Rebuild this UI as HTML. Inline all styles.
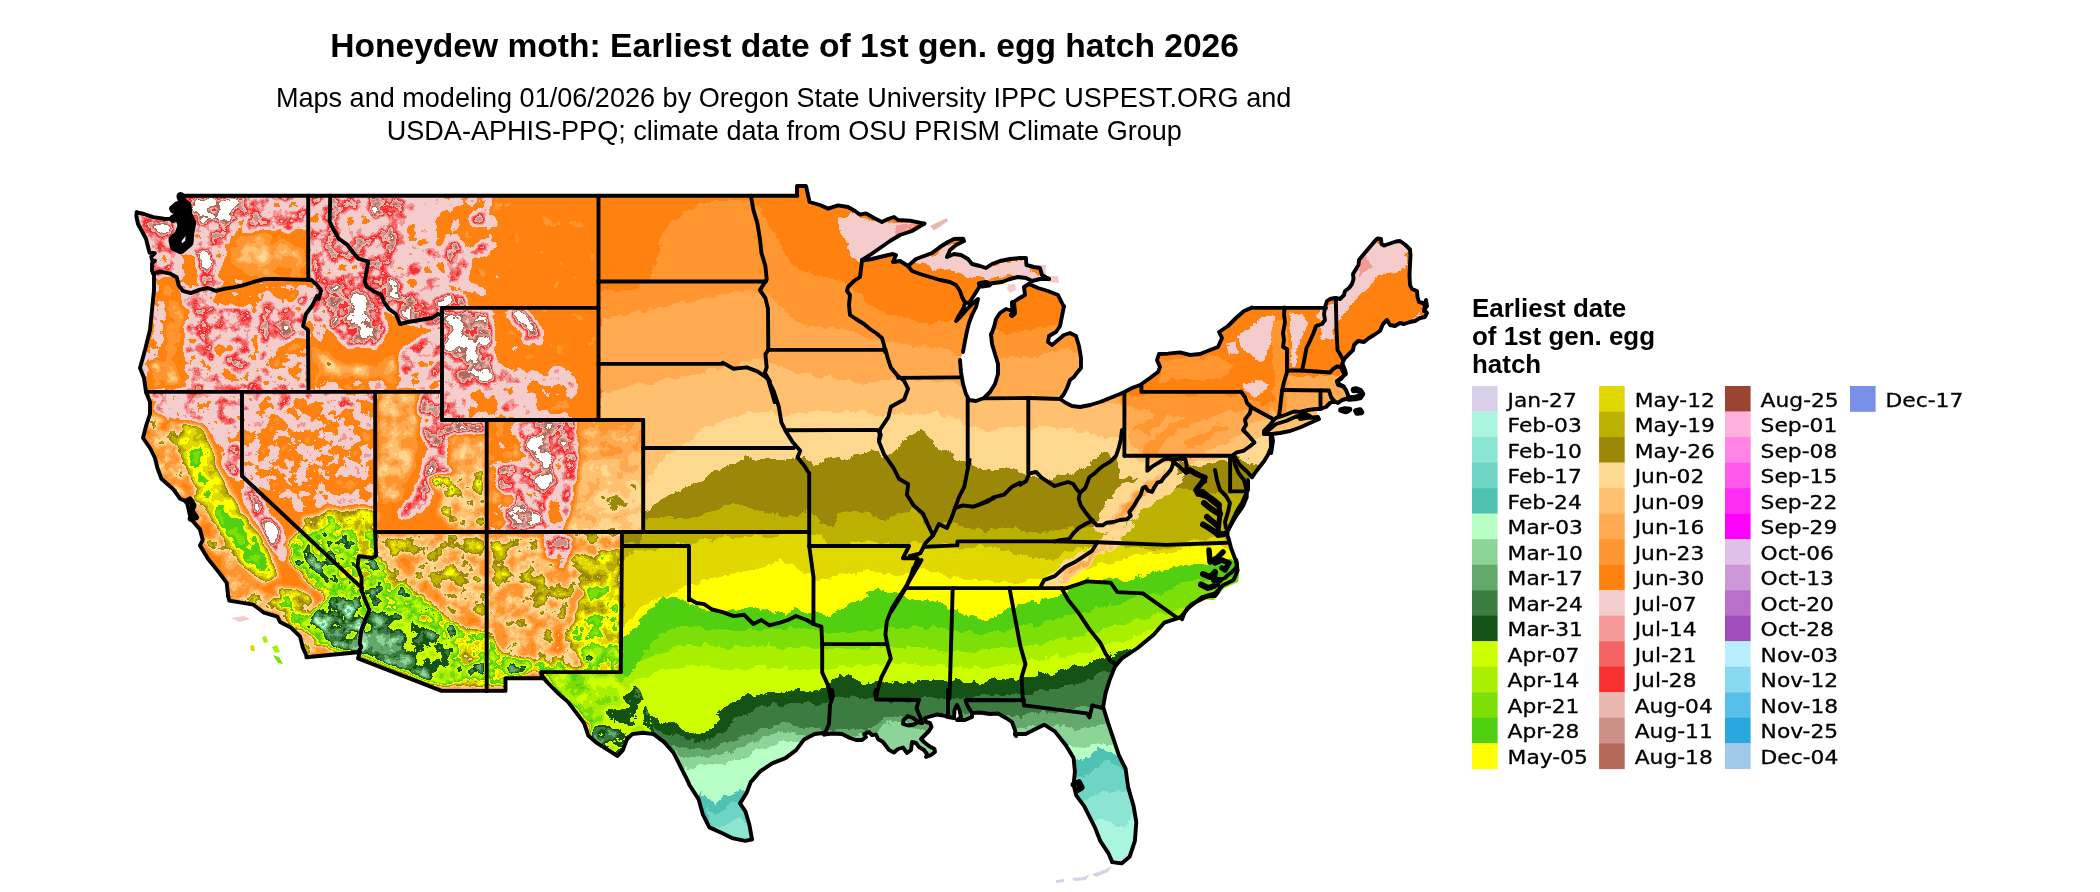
<!DOCTYPE html>
<html lang="en"><head><meta charset="utf-8"><title>Honeydew moth: Earliest date of 1st gen. egg hatch 2026</title>
<style>html,body{margin:0;padding:0;background:#fff}svg{display:block;will-change:transform}</style></head>
<body><svg width="2100" height="892" viewBox="0 0 2100 892">
<rect width="2100" height="892" fill="#fff"/>
<defs><clipPath id="us"><path d="M180.3 195.8L308.2 195.8L330.3 195.8L598.5 195.8L750.9 195.8L797.4 195.8L797.0 195.6L797.0 186.0L806.0 186.0L809.6 202.0L820.0 205.0L828.0 208.6L838.0 205.4L848.0 207.0L855.0 211.0L860.0 214.6L866.0 213.4L874.0 218.0L882.0 222.0L888.0 219.0L894.0 217.0L898.0 220.0L910.0 220.6L924.4 223.6L912.0 231.0L900.0 235.0L890.0 241.0L880.0 248.0L870.0 255.0L862.0 260.0L862.0 260.6L872.0 259.0L884.0 256.0L893.0 254.0L896.0 255.0L893.0 262.0L900.0 261.0L908.0 266.0L916.0 259.0L924.0 256.0L932.0 253.0L940.0 247.0L948.0 242.0L954.0 239.0L963.0 238.6L964.0 241.0L956.0 245.0L950.0 250.0L947.0 257.0L954.0 254.0L961.0 255.0L968.0 259.0L972.0 264.0L980.0 266.0L986.0 268.0L992.0 264.0L1000.0 261.0L1010.0 259.0L1020.0 258.0L1026.0 258.0L1026.4 265.0L1034.0 267.0L1040.0 268.0L1042.0 275.0L1049.0 279.0L1040.0 279.0L1032.0 281.0L1026.0 278.0L1018.0 277.0L1010.0 279.0L1002.0 282.0L994.0 283.0L988.0 284.0L982.0 283.0L978.0 289.0L973.0 297.0L969.0 303.0L965.0 302.6L965.0 303.0L963.0 309.0L958.0 317.0L956.0 321.0L961.0 316.0L967.0 309.0L973.0 303.0L978.0 299.0L976.0 307.0L972.0 315.0L969.0 323.0L967.0 331.0L965.0 341.0L963.0 352.0L960.0 360.0L961.0 372.0L963.0 384.0L966.0 394.0L969.0 400.0L976.0 401.0L984.0 398.0L990.0 392.0L995.0 384.0L998.0 374.0L998.0 364.0L995.0 354.0L992.0 344.0L991.0 334.0L991.0 335.0L994.0 327.0L996.0 319.0L1000.0 313.0L1006.0 309.0L1013.0 311.0L1012.0 303.0L1018.0 299.0L1025.0 295.0L1024.0 287.0L1029.0 284.0L1038.0 288.0L1048.0 291.0L1058.0 295.0L1062.0 303.0L1064.0 307.0L1064.0 306.0L1062.0 316.0L1060.0 326.0L1056.0 332.0L1049.0 336.0L1048.0 342.0L1052.0 345.0L1058.0 340.0L1064.0 335.0L1070.0 333.0L1076.0 336.0L1079.0 346.0L1081.0 358.0L1081.0 368.0L1076.0 374.0L1074.0 377.0L1070.0 380.0L1067.0 388.0L1064.0 394.0L1060.0 399.0L1066.0 403.0L1072.0 406.0L1080.0 407.0L1090.0 405.0L1100.0 402.0L1110.0 398.0L1120.0 394.0L1124.4 392.0L1132.0 388.0L1140.0 385.0L1143.0 383.0L1150.0 378.0L1158.0 372.0L1160.0 367.0L1157.0 360.0L1159.0 354.0L1168.0 353.6L1180.0 352.4L1190.0 355.0L1200.0 354.0L1210.0 350.0L1218.0 347.0L1222.0 338.0L1219.0 332.0L1228.0 326.0L1236.0 318.0L1244.0 311.0L1252.0 307.6L1254.5 307.9L1284.6 307.9L1326.0 307.9L1325.0 307.0L1327.0 301.0L1330.0 299.0L1335.0 298.0L1335.5 298.0L1340.0 299.0L1344.0 295.0L1345.0 291.0L1349.0 288.0L1352.0 284.0L1353.5 279.0L1353.0 274.0L1356.0 269.0L1358.5 265.0L1359.0 260.0L1363.0 255.0L1369.0 248.0L1374.0 242.0L1377.5 238.5L1381.0 239.0L1381.5 244.0L1384.0 245.5L1390.0 243.5L1396.0 241.5L1400.0 241.0L1405.0 244.5L1410.0 249.5L1410.5 255.0L1410.0 265.0L1409.5 275.0L1410.0 285.0L1412.0 289.0L1417.0 291.0L1417.5 297.0L1419.0 302.0L1423.0 303.0L1425.0 306.0L1424.0 311.0L1426.0 300.0L1427.0 306.0L1424.0 310.0L1427.0 313.0L1425.0 317.0L1420.0 318.0L1415.0 321.0L1410.0 322.0L1404.0 324.0L1400.0 323.0L1395.0 326.0L1390.0 325.0L1387.0 320.0L1383.0 324.0L1380.0 331.0L1374.0 335.0L1369.0 338.0L1364.0 342.0L1358.0 341.0L1354.0 345.0L1353.0 350.0L1349.0 354.0L1345.0 358.0L1343.0 362.0L1341.0 367.0L1343.0 365.0L1345.0 370.0L1346.0 374.0L1341.0 378.0L1337.0 382.0L1338.0 385.0L1343.0 386.0L1346.0 390.0L1348.0 395.0L1349.0 398.5L1355.0 398.0L1360.0 397.0L1362.0 394.0L1360.0 391.0L1356.0 389.5L1354.0 390.0L1357.0 392.0L1359.0 394.0L1358.0 395.5L1355.0 396.8L1350.0 400.0L1346.0 399.0L1342.0 400.0L1338.0 403.0L1334.0 401.0L1330.0 403.0L1326.0 407.0L1320.5 409.0L1316.0 409.0L1308.0 410.0L1300.0 412.0L1294.0 411.5L1285.0 415.0L1276.0 418.0L1274.0 419.5L1270.0 425.0L1266.0 430.0L1272.0 435.0L1272.0 435.0L1273.0 441.0L1271.2 453.0L1270.7 436.0L1271.3 446.7L1268.0 454.7L1264.0 461.3L1258.7 468.0L1254.7 473.3L1252.0 477.3L1244.0 480.0L1246.7 490.7L1248.0 480.0L1248.0 490.0L1245.0 496.0L1242.0 503.0L1238.0 509.0L1234.0 517.0L1230.0 526.0L1228.5 529.0L1226.5 533.0L1229.0 540.0L1231.0 548.0L1229.0 540.0L1231.0 548.0L1234.0 556.0L1239.2 570.0L1238.2 582.0L1224.0 588.2L1214.0 600.2L1204.0 599.0L1198.0 601.0L1192.0 604.0L1187.0 609.0L1184.0 614.0L1182.0 619.2L1164.2 622.7L1153.6 634.7L1137.6 648.0L1121.6 658.7L1114.9 666.7L1109.6 680.1L1105.5 693.4L1102.9 708.1L1102.9 706.0L1108.2 723.4L1113.6 739.4L1118.9 755.4L1125.6 768.7L1128.2 787.4L1133.6 806.1L1136.3 822.1L1134.9 840.8L1129.6 856.8L1121.6 863.4L1112.2 862.1L1112.2 862.1L1108.2 852.8L1100.2 840.8L1094.9 827.4L1089.6 816.8L1084.2 806.1L1076.2 795.4L1073.6 784.7L1074.9 771.4L1073.6 758.1L1065.5 744.7L1054.9 731.4L1044.2 724.7L1033.5 730.0L1025.5 734.0L1014.9 734.0L1016.0 736.0L1015.0 730.0L1012.0 722.0L1006.0 718.0L998.0 713.5L990.0 714.0L980.0 712.5L972.0 713.0L972.0 713.0L972.0 717.0L965.0 720.0L957.0 720.0L961.0 717.0L959.5 710.0L957.0 705.0L954.5 710.0L954.0 718.0L948.0 717.0L943.0 715.5L937.0 714.5L930.0 716.5L925.0 718.0L926.0 722.0L930.0 723.0L931.5 727.0L929.0 731.0L925.0 735.0L921.0 739.0L924.0 742.0L929.0 746.0L934.5 749.0L935.0 752.0L931.0 755.0L926.0 757.0L927.0 754.0L924.0 750.0L919.0 747.0L916.0 743.0L912.0 742.0L911.0 750.0L907.0 753.0L903.0 747.5L898.0 749.0L894.0 752.5L889.0 750.0L886.0 746.0L883.0 742.0L878.0 739.0L876.0 734.5L872.0 735.0L869.0 732.0L864.0 734.0L866.0 737.0L862.0 740.0L856.0 740.0L850.0 738.0L842.0 734.0L832.0 733.5L824.0 734.5L825.4 732.7L814.7 734.0L804.1 739.4L796.1 750.1L785.4 758.1L772.1 763.4L760.1 771.4L750.7 782.1L746.7 792.7L740.0 803.4L745.4 811.4L749.4 824.8L752.0 839.4L752.0 839.4L745.4 840.8L732.0 838.1L721.4 832.8L709.4 827.4L702.7 814.1L698.7 799.4L689.3 784.7L688.3 782.1L680.3 766.1L673.6 752.8L664.2 742.1L653.6 734.1L642.9 732.7L632.2 734.1L626.9 739.4L622.9 750.1L617.6 756.0L608.2 750.1L597.5 743.4L588.2 735.4L584.2 723.4L576.2 712.7L568.2 702.1L557.5 692.7L546.9 682.0L541.5 674.8L543.1 678.3L505.5 678.3L505.5 690.9L486.7 690.9L441.6 690.9L358.0 658.4L360.0 652.0L306.4 657.3L306.7 656.2L302.7 647.4L300.1 636.7L290.7 627.4L280.0 622.0L277.4 616.7L264.0 612.7L253.4 604.7L229.3 600.7L228.0 595.3L228.1 596.1L226.7 582.8L218.7 572.1L208.0 558.8L200.0 545.4L202.7 540.1L200.0 529.4L190.7 518.7L186.7 501.4L180.0 498.7L173.4 489.4L161.4 478.7L157.4 468.0L155.0 458.0L150.0 448.0L143.0 438.0L146.0 426.0L150.0 414.0L150.0 402.0L146.0 392.0L146.0 392.0L144.0 378.0L140.0 368.0L145.0 350.0L150.0 330.0L152.0 310.0L154.0 290.0L153.1 273.3L152.0 270.7L152.0 263.3L154.9 260.7L152.0 260.0L151.3 256.7L154.9 253.1L149.6 252.7L148.0 246.7L146.0 238.7L142.0 231.3L138.0 224.0L136.3 216.0L136.7 212.3L136.7 212.3L144.0 214.0L153.3 217.1L164.0 218.7L173.3 218.9L173.3 218.7L178.7 216.0L182.0 225.3L178.7 234.7L172.7 239.3L174.0 246.7L180.7 250.0L189.3 242.7L190.0 233.3L192.0 222.7L188.0 214.7L187.3 205.3L182.7 202.0L180.7 196.3Z"/><path d="M1264.0 434.0L1276.0 424.0L1286.0 421.0L1295.0 417.0L1306.0 414.0L1310.0 416.0L1300.0 419.0L1306.0 418.0L1318.0 417.0L1319.0 419.0L1310.0 423.0L1300.0 427.5L1290.0 431.0L1280.0 433.0L1272.0 434.0L1264.0 434.0Z"/><path d="M1274.0 419.5L1285.0 415.0L1294.0 411.5L1300.0 412.0L1308.0 410.0L1316.0 409.0L1318.0 417.0L1306.0 418.0L1300.0 419.0L1295.0 417.0L1286.0 421.0L1276.0 424.0Z"/></clipPath></defs>
<g clip-path="url(#us)" shape-rendering="crispEdges">
<defs><filter id="rag" filterUnits="userSpaceOnUse" x="90" y="140" width="1420" height="760" color-interpolation-filters="sRGB"><feTurbulence type="fractalNoise" baseFrequency="0.085" numOctaves="4" seed="5" result="n"/><feDisplacementMap in="SourceGraphic" in2="n" scale="11" xChannelSelector="R" yChannelSelector="G"/></filter></defs>
<g filter="url(#rag)">
<rect x="60" y="100" width="1500" height="840" fill="#FF8210"/>
<path fill="#FF9630" d="M600.0 291.7L630.0 290.0L650.0 280.0L660.0 246.7L670.0 220.0L696.7 205.0L730.0 199.3L740.0 200.0L760.0 210.0L773.3 230.0L786.7 253.3L793.3 266.7L813.3 273.3L833.3 280.0L850.0 283.3L860.0 293.3L873.3 306.7L893.3 313.3L913.3 320.0L933.3 323.3L953.3 320.0L966.7 313.3L993.3 330.0L1006.7 333.3L1026.7 330.0L1046.7 326.7L1060.0 320.0L1073.3 313.3L1106.7 366.7L1126.7 393.3L1156.7 395.0L1206.7 395.0L1246.7 396.7L1266.7 406.7L1280.0 393.3L1286.7 373.3L1306.7 380.0L1340.0 373.3L1373.3 380.0L1460.0 380.0L1460.0 900.0L600.0 900.0Z" />
<path fill="#FFAA50" d="M600.0 320.0L630.0 313.3L663.3 306.7L696.7 300.0L730.0 293.3L753.3 290.0L766.7 293.3L780.0 306.7L793.3 320.0L806.7 326.7L826.7 326.7L846.7 330.0L866.7 336.7L883.3 340.0L900.0 343.3L920.0 346.7L940.0 350.0L960.0 353.3L966.7 356.7L993.3 356.7L1006.7 360.0L1026.7 356.7L1046.7 353.3L1066.7 346.7L1080.0 353.3L1106.7 386.7L1126.7 406.7L1156.7 413.3L1190.0 416.7L1223.3 413.3L1246.7 410.0L1266.7 413.3L1280.0 400.0L1306.7 393.3L1340.0 386.7L1373.3 393.3L1460.0 393.3L1460.0 900.0L600.0 900.0Z" />
<path fill="#FFC070" d="M600.0 393.3L630.0 386.7L663.3 380.0L696.7 373.3L730.0 366.7L753.3 360.0L766.7 360.0L780.0 366.7L800.0 373.3L820.0 376.7L840.0 380.0L860.0 383.3L880.0 380.0L900.0 376.7L920.0 380.0L940.0 380.0L960.0 383.3L970.0 393.3L986.7 400.0L1006.7 396.7L1030.0 396.7L1050.0 398.3L1066.7 400.0L1086.7 406.7L1106.7 403.3L1123.3 403.3L1130.0 446.7L1156.7 458.3L1190.0 459.3L1220.0 446.7L1240.0 433.3L1253.3 423.3L1273.3 413.3L1306.7 420.0L1460.0 420.0L1460.0 900.0L600.0 900.0Z" />
<path fill="#FFD890" d="M590.0 530.0L603.3 510.0L623.3 496.7L643.3 490.0L660.0 460.0L680.0 446.7L700.0 433.3L716.7 423.3L733.3 416.7L750.0 411.7L766.7 411.7L786.7 416.7L800.0 413.3L816.7 410.0L833.3 413.3L850.0 410.0L866.7 413.3L883.3 416.7L900.0 413.3L916.7 411.7L933.3 413.3L950.0 416.7L970.0 426.7L986.7 430.0L1006.7 426.7L1030.0 428.3L1050.0 426.7L1070.0 430.0L1090.0 433.3L1106.7 436.7L1123.3 438.3L1130.0 460.0L1156.7 463.3L1190.0 463.3L1223.3 458.3L1246.7 446.7L1260.0 436.7L1280.0 428.3L1306.7 433.3L1460.0 433.3L1460.0 900.0L590.0 900.0Z" />
<path fill="#9C8808" d="M620.0 531.7L633.3 525.0L643.3 513.3L650.0 506.7L666.7 496.7L680.0 490.0L700.0 483.3L710.0 473.3L726.7 466.7L740.0 460.0L760.0 458.3L780.0 460.0L800.0 458.3L808.3 460.0L820.0 463.3L833.3 456.7L846.7 460.0L860.0 453.3L876.7 450.0L883.3 456.7L893.3 453.3L900.0 443.3L913.3 433.3L920.0 430.0L930.0 440.0L940.0 450.0L953.3 456.7L966.7 463.3L980.0 466.7L993.3 470.0L1006.7 466.7L1016.7 470.0L1030.0 476.7L1043.3 480.0L1060.0 476.7L1073.3 473.3L1083.3 466.7L1093.3 460.0L1106.7 453.3L1116.7 456.7L1120.0 480.0L1133.3 476.7L1153.3 470.0L1173.3 460.0L1186.7 463.3L1200.0 466.7L1216.7 463.3L1226.7 460.0L1233.3 456.7L1246.7 460.0L1266.7 466.7L1460.0 466.7L1460.0 900.0L620.0 900.0Z" />
<path fill="#BCB000" d="M620.0 543.3L641.7 542.7L643.3 520.0L666.7 516.7L686.7 520.0L700.0 513.3L716.7 510.0L733.3 503.3L750.0 506.7L766.7 513.3L786.7 516.7L808.3 513.3L820.0 520.0L833.3 526.7L840.0 513.3L853.3 510.0L866.7 513.3L883.3 520.0L900.0 513.3L916.7 506.7L925.0 520.0L933.3 528.3L946.7 523.3L966.7 526.7L986.7 530.0L1000.0 526.7L1020.0 530.0L1040.0 531.7L1060.0 530.0L1080.0 526.7L1090.0 526.7L1106.7 526.7L1120.0 513.3L1133.3 500.0L1153.3 490.0L1173.3 486.7L1193.3 490.0L1213.3 493.3L1233.3 493.3L1266.7 493.3L1460.0 493.3L1460.0 900.0L620.0 900.0Z" />
<path fill="#E0D800" d="M623.3 553.3L643.3 550.0L666.7 546.7L688.3 543.3L700.0 540.0L733.3 536.7L766.7 535.0L808.3 533.3L820.0 536.7L833.3 546.7L853.3 543.3L866.7 540.0L883.3 543.3L900.0 546.7L913.3 543.3L925.0 543.3L933.3 546.7L953.3 545.0L966.7 546.7L986.7 546.7L1000.0 550.0L1016.7 553.3L1033.3 556.7L1046.7 560.0L1060.0 556.7L1073.3 550.0L1086.7 546.7L1106.7 543.3L1120.0 543.3L1133.3 546.7L1150.0 550.0L1166.7 546.7L1183.3 543.3L1200.0 540.0L1216.7 536.7L1233.3 536.7L1266.7 536.7L1460.0 536.7L1460.0 900.0L623.3 900.0Z" />
<path fill="#FFFF00" d="M622.0 627.3L633.0 619.0L646.3 603.0L670.7 593.7L686.7 585.7L706.7 580.0L733.3 573.3L750.0 570.0L766.7 566.7L780.0 560.0L793.3 566.7L808.3 573.3L820.0 580.0L833.3 576.7L853.3 573.3L866.7 570.0L883.3 573.3L900.0 576.7L913.3 570.0L925.0 566.7L933.3 570.0L950.0 576.7L966.7 580.0L983.3 580.0L1000.0 583.3L1016.7 583.3L1033.3 580.0L1043.3 576.7L1066.7 573.3L1093.3 566.7L1106.7 563.3L1120.0 560.0L1133.3 556.7L1150.0 553.3L1166.7 553.3L1183.3 550.0L1200.0 546.7L1216.7 546.7L1233.3 546.7L1266.7 546.7L1460.0 546.7L1460.0 900.0L622.0 900.0Z" />
<path fill="#50D010" d="M622.3 640.7L633.3 628.3L646.7 613.3L656.7 602.7L663.3 596.7L676.7 596.7L688.3 603.3L700.0 610.0L716.7 610.0L733.3 610.0L750.0 606.7L766.7 610.0L786.7 613.3L800.0 610.0L813.3 613.3L826.7 616.7L840.0 610.0L853.3 603.3L866.7 596.7L876.7 586.7L886.7 593.3L900.0 593.3L913.3 600.0L926.7 600.0L940.0 603.3L953.3 610.0L966.7 616.7L983.3 620.0L1000.0 613.3L1013.3 606.7L1026.7 603.3L1040.0 600.0L1053.3 596.7L1063.3 593.3L1073.3 586.7L1086.7 580.0L1100.0 580.0L1113.3 580.0L1126.7 580.0L1140.0 576.7L1153.3 573.3L1166.7 570.0L1183.3 566.7L1200.0 563.3L1216.7 560.0L1233.3 560.0L1266.7 560.0L1460.0 560.0L1460.0 900.0L622.3 900.0Z" />
<path fill="#7CE008" d="M643.3 651.7L660.0 635.0L676.7 628.3L693.3 626.7L713.3 628.3L733.3 631.7L753.3 628.3L773.3 628.3L793.3 630.0L813.3 628.3L826.7 631.7L846.7 631.7L860.0 630.0L880.0 628.3L893.3 628.3L913.3 625.0L926.7 626.7L946.7 628.3L960.0 631.7L980.0 633.3L993.3 631.7L1006.7 628.3L1020.0 625.0L1033.3 625.0L1046.7 621.7L1060.0 618.3L1073.3 615.0L1086.7 611.7L1100.0 608.3L1120.0 601.7L1133.3 598.3L1146.7 595.0L1193.3 581.7L1260.0 575.0L1460.0 575.0L1460.0 900.0L643.3 900.0Z" />
<path fill="#A8F000" d="M626.7 675.0L646.7 658.3L666.7 648.3L686.7 645.0L706.7 645.0L726.7 648.3L746.7 645.0L766.7 646.7L786.7 648.3L806.7 648.3L826.7 648.3L846.7 650.0L866.7 648.3L886.7 648.3L906.7 646.7L926.7 648.3L946.7 650.0L966.7 651.7L986.7 650.0L1006.7 648.3L1026.7 645.0L1046.7 641.7L1066.7 638.3L1086.7 635.0L1106.7 628.3L1126.7 623.3L1146.7 618.3L1160.0 615.0L1173.3 611.7L1210.0 601.7L1260.0 595.0L1460.0 595.0L1460.0 900.0L626.7 900.0Z" />
<path fill="#CCFF00" d="M593.3 705.0L613.3 688.3L633.3 681.7L653.3 671.7L673.3 668.3L693.3 666.7L713.3 668.3L733.3 670.0L753.3 666.7L773.3 668.3L793.3 670.0L813.3 668.3L826.7 668.3L846.7 666.7L866.7 665.0L886.7 663.3L906.7 661.7L926.7 665.0L946.7 666.7L966.7 668.3L986.7 666.7L1006.7 665.0L1026.7 661.7L1046.7 658.3L1066.7 655.0L1086.7 651.7L1106.7 645.0L1126.7 638.3L1140.0 635.0L1176.7 625.0L1260.0 615.0L1460.0 615.0L1460.0 900.0L593.3 900.0Z" />
<path fill="#155215" d="M586.7 728.3L600.0 731.7L616.7 728.3L626.7 721.7L633.3 711.7L643.3 708.3L650.0 715.0L660.0 721.7L673.3 725.0L686.7 731.7L700.0 733.3L713.3 728.3L720.0 718.3L716.7 708.3L726.7 705.0L740.0 698.3L753.3 695.0L766.7 693.3L780.0 691.7L793.3 688.3L806.7 690.0L820.0 691.7L826.7 685.0L836.7 676.7L850.0 673.3L860.0 681.7L873.3 683.3L886.7 680.0L900.0 683.3L913.3 681.7L926.7 680.0L940.0 678.3L953.3 681.7L966.7 683.3L980.0 681.7L993.3 680.0L1006.7 678.3L1020.0 678.3L1033.3 675.0L1046.7 673.3L1060.0 670.0L1073.3 666.7L1086.7 663.3L1100.0 660.0L1110.0 656.7L1116.7 653.3L1160.0 645.0L1260.0 635.0L1460.0 635.0L1460.0 900.0L586.7 900.0Z" />
<path fill="#3C7C40" d="M616.7 735.0L633.3 728.3L646.7 725.0L660.0 731.7L673.3 735.0L686.7 738.3L700.0 741.7L713.3 738.3L726.7 728.3L733.3 718.3L746.7 711.7L760.0 706.7L776.7 705.0L793.3 703.3L810.0 703.3L826.7 701.7L833.3 698.3L846.7 698.3L860.0 700.0L875.0 700.0L893.3 701.7L913.3 700.0L926.7 698.3L946.7 696.7L960.0 698.3L980.0 696.7L993.3 695.0L1006.7 695.0L1023.3 695.0L1040.0 691.7L1053.3 690.0L1066.7 686.7L1080.0 683.3L1093.3 678.3L1106.7 671.7L1160.0 661.7L1260.0 655.0L1460.0 655.0L1460.0 900.0L616.7 900.0Z" />
<path fill="#64A86C" d="M593.3 738.3L616.7 743.3L633.3 738.3L646.7 735.0L660.0 741.7L673.3 746.7L686.7 748.3L700.0 750.0L716.7 746.7L733.3 741.7L746.7 735.0L760.0 728.3L773.3 725.0L786.7 723.3L800.0 726.7L813.3 728.3L826.7 731.7L840.0 730.0L853.3 728.3L866.7 730.0L876.7 725.0L886.7 718.3L900.0 715.0L913.3 718.3L920.0 723.3L943.3 721.7L966.7 711.7L980.0 710.0L993.3 711.7L1006.7 715.0L1020.0 716.7L1033.3 713.3L1046.7 711.7L1060.0 710.0L1073.3 708.3L1086.7 706.7L1100.0 705.0L1160.0 695.0L1260.0 688.3L1460.0 688.3L1460.0 900.0L593.3 900.0Z" />
<path fill="#8CD498" d="M673.3 751.7L686.7 755.0L700.0 758.3L716.7 755.0L733.3 751.7L746.7 745.0L760.0 738.3L773.3 733.3L786.7 731.7L800.0 735.0L806.7 735.0L843.3 741.7L880.0 728.3L893.3 721.7L906.7 723.3L916.7 728.3L923.3 735.0L960.0 735.0L1020.0 728.3L1033.3 726.7L1046.7 725.0L1060.0 726.7L1073.3 728.3L1086.7 728.3L1100.0 725.0L1106.7 721.7L1160.0 711.7L1260.0 705.0L1460.0 705.0L1460.0 900.0L673.3 900.0Z" />
<path fill="#B8FFC5" d="M683.3 768.3L696.7 766.7L710.0 765.0L726.7 761.7L740.0 758.3L753.3 751.7L766.7 745.0L780.0 741.7L793.3 741.7L800.0 741.7L860.0 755.0L993.3 755.0L1060.0 741.7L1073.3 745.0L1086.7 746.7L1100.0 745.0L1110.0 741.7L1116.7 738.3L1160.0 728.3L1260.0 721.7L1460.0 721.7L1460.0 900.0L683.3 900.0Z" />
<path fill="#50C2B4" d="M700.0 791.7L706.7 795.0L713.3 805.0L723.3 798.3L730.0 791.7L740.0 788.3L746.7 791.7L750.0 798.3L860.0 801.7L993.3 795.0L1073.3 761.7L1083.3 758.3L1093.3 751.7L1103.3 748.3L1113.3 751.7L1121.7 761.7L1160.0 755.0L1260.0 748.3L1460.0 748.3L1460.0 900.0L700.0 900.0Z" />
<path fill="#6ED4C4" d="M706.7 808.3L716.7 815.0L726.7 808.3L733.3 801.7L741.7 805.0L746.7 815.0L860.0 821.7L993.3 815.0L1076.7 778.3L1086.7 775.0L1096.7 768.3L1106.7 761.7L1116.7 765.0L1125.0 771.7L1160.0 768.3L1260.0 761.7L1460.0 761.7L1460.0 900.0L706.7 900.0Z" />
<path fill="#8CE5D2" d="M710.0 825.0L720.0 828.3L730.0 821.7L740.0 818.3L748.3 828.3L860.0 841.7L993.3 835.0L1080.0 801.7L1090.0 798.3L1100.0 795.0L1110.0 791.7L1120.0 788.3L1128.3 791.7L1160.0 788.3L1260.0 781.7L1460.0 781.7L1460.0 900.0L710.0 900.0Z" />
<path fill="#AAF5E0" d="M993.3 855.0L1090.0 821.7L1100.0 818.3L1110.0 821.7L1120.0 828.3L1126.7 825.0L1133.3 815.0L1160.0 811.7L1260.0 808.3L1460.0 808.3L1460.0 900.0L993.3 900.0Z" />
</g>
<defs><clipPath id="wr"><path d="M100.0 150.0L598.5 150.0L598.5 420.0L643.2 420.0L643.2 532.0L621.9 532.0L621.9 546.0L620.8 672.1L640.0 690.0L655.0 730.0L640.0 770.0L600.0 790.0L100.0 790.0Z"/></clipPath>
<filter id="wf" filterUnits="userSpaceOnUse" x="90" y="140" width="660" height="760" color-interpolation-filters="sRGB"><feGaussianBlur in="SourceGraphic" stdDeviation="2.6" result="b"/><feColorMatrix in="b" type="matrix" values="1 0 0 0 0  1 0 0 0 0  1 0 0 0 0  0 0 0 0 1" result="L"/><feColorMatrix in="b" type="matrix" values="0 1 0 0 0  0 1 0 0 0  0 1 0 0 0  0 0 0 0 1" result="A"/><feTurbulence type="fractalNoise" baseFrequency="0.065" numOctaves="5" seed="11" result="n"/><feColorMatrix in="n" type="matrix" values="1.8 0 0 0 -0.4  1.8 0 0 0 -0.4  1.8 0 0 0 -0.4  0 0 0 0 1" result="ng"/><feComposite in="A" in2="ng" operator="arithmetic" k1="1" k2="0" k3="0" k4="0" result="t1"/><feComposite in="L" in2="t1" operator="arithmetic" k1="0" k2="1" k3="0.24" k4="0" result="f"/><feComponentTransfer in="f"><feFuncR type="discrete" tableValues="0.314 0.722 0.549 0.392 0.235 0.082 0.800 0.659 0.486 0.314 1.000 0.878 0.737 0.612 1.000 1.000 1.000 1.000 1.000 1.000 1.000 1.000 0.957 0.957 0.957 0.957 0.957 0.973 0.910 0.800 0.706 1.000 1.000 1.000 1.000 1.000"/><feFuncG type="discrete" tableValues="0.761 1.000 0.831 0.659 0.486 0.322 1.000 0.941 0.878 0.816 1.000 0.847 0.690 0.533 0.847 0.753 0.667 0.588 0.588 0.510 0.510 0.510 0.800 0.800 0.800 0.596 0.392 0.188 0.722 0.565 0.408 1.000 1.000 1.000 1.000 1.000"/><feFuncB type="discrete" tableValues="0.706 0.773 0.596 0.424 0.251 0.082 0.000 0.000 0.031 0.063 0.000 0.000 0.000 0.031 0.565 0.439 0.314 0.188 0.188 0.063 0.063 0.063 0.800 0.800 0.800 0.596 0.392 0.188 0.690 0.533 0.345 1.000 1.000 1.000 1.000 1.000"/></feComponentTransfer></filter></defs>
<g clip-path="url(#wr)"><g filter="url(#wf)"><rect x="60" y="100" width="700" height="840" fill="rgb(135,63,0)"/><path fill="rgb(134,56,0)" d="M493.3 193.3L603.3 193.3L603.3 313.3L596.7 366.7L523.3 366.7L523.3 313.3L496.7 306.7L498.3 280.0L495.0 246.7Z"/><path fill="rgb(128,217,0)" d="M241.7 390.0L378.3 390.0L378.3 513.3L343.3 516.7L316.7 516.7L296.7 510.0L241.7 471.7Z"/><path fill="rgb(100,128,0)" d="M378.3 390.0L421.7 390.0L416.7 433.3L413.3 466.7L400.0 496.7L378.3 506.7Z"/><path fill="rgb(146,230,0)" d="M135.0 211.7L180.0 195.0L183.3 220.0L176.7 246.7L173.3 276.7L150.0 276.7L148.3 246.7L138.3 230.0Z"/><path fill="rgb(170,204,0)" d="M141.7 216.7L170.0 213.3L173.3 233.3L163.3 246.7L150.0 243.3L142.7 230.0Z"/><path fill="rgb(197,255,0)" d="M154.0 222.7L171.7 222.7L171.7 236.0L156.7 237.3Z"/><path fill="rgb(137,153,0)" d="M175.0 243.3L196.7 241.7L205.0 260.0L196.7 280.0L176.7 281.7Z"/><path fill="rgb(150,255,0)" d="M180.0 195.0L310.0 195.0L308.3 230.0L290.0 231.7L270.0 228.3L250.0 230.0L230.0 236.7L225.0 253.3L220.0 276.7L210.0 281.7L193.3 280.0L196.7 256.7L186.7 240.0L183.3 216.7Z"/><path fill="rgb(182,255,0)" d="M188.3 196.7L245.0 196.7L246.7 211.7L233.3 221.7L215.0 218.3L201.7 225.0L191.7 215.0Z"/><path fill="rgb(197,255,0)" d="M196.7 198.3L236.7 198.3L238.3 208.3L226.7 215.0L210.0 211.7L201.7 216.7L196.7 208.3Z"/><path fill="rgb(197,255,0)" d="M199.0 252.7L210.0 250.7L212.0 267.3L202.0 271.7Z"/><path fill="rgb(112,115,0)" d="M230.0 243.3L243.3 236.7L263.3 233.3L280.0 236.7L296.7 246.7L305.0 263.3L298.3 277.3L276.7 277.3L256.7 276.0L240.0 270.7L230.0 260.0Z"/><path fill="rgb(96,89,0)" d="M240.7 247.3L253.3 244.0L266.7 247.3L270.0 260.0L260.0 268.0L246.7 264.7L240.7 256.7Z"/><path fill="rgb(134,204,0)" d="M143.3 280.0L163.3 280.0L166.7 313.3L161.7 346.7L153.3 386.7L143.3 386.7L140.0 366.7L146.7 330.0Z"/><path fill="rgb(114,115,0)" d="M161.7 288.3L180.0 286.0L183.3 320.0L180.0 350.0L170.0 360.0L163.3 346.7L169.3 320.0Z"/><path fill="rgb(99,178,0)" d="M148.3 361.7L175.0 360.0L180.0 383.3L153.3 388.3Z"/><path fill="rgb(153,255,0)" d="M180.0 284.0L206.7 280.7L210.0 313.3L205.0 346.7L206.7 390.0L186.7 390.0L185.0 346.7L186.7 313.3Z"/><path fill="rgb(146,255,0)" d="M206.7 280.7L316.7 286.0L306.7 313.3L305.0 326.7L308.3 336.7L307.3 390.7L206.7 390.7L205.0 346.7L210.0 313.3Z"/><path fill="rgb(125,178,0)" d="M213.3 285.0L240.0 284.0L270.0 286.0L296.7 284.0L305.0 295.0L286.7 306.7L263.3 301.7L240.0 306.7L216.0 302.7Z"/><path fill="rgb(160,255,0)" d="M240.0 315.0L270.0 311.7L296.7 308.3L306.0 320.0L290.0 331.7L276.7 338.3L246.7 335.0Z"/><path fill="rgb(197,255,0)" d="M295.7 295.7L305.0 295.7L305.0 305.0L296.7 304.0Z"/><path fill="rgb(129,204,0)" d="M215.0 343.3L238.3 340.0L253.3 354.0L245.0 372.7L225.0 378.7L212.7 366.7Z"/><path fill="rgb(126,204,0)" d="M266.7 343.3L290.0 339.3L305.3 348.3L305.3 380.0L281.7 385.0L266.7 366.7Z"/><path fill="rgb(153,230,0)" d="M223.3 353.3L246.7 346.7L263.3 360.0L243.3 373.3L226.7 370.0Z"/><path fill="rgb(151,255,0)" d="M310.0 195.0L333.3 195.0L336.7 226.7L346.7 246.7L363.3 263.3L363.3 286.7L330.0 290.0L316.7 291.7L310.7 276.7Z"/><path fill="rgb(161,255,0)" d="M330.0 195.0L410.0 195.0L413.3 220.0L396.7 246.7L386.7 266.7L406.7 290.0L433.3 306.7L441.7 313.3L431.7 324.0L403.3 320.7L383.3 307.3L363.3 287.3L360.0 263.3L343.3 246.7L333.3 226.7Z"/><path fill="rgb(148,153,0)" d="M343.3 209.3L363.3 206.0L377.3 223.3L370.7 240.7L353.3 237.3Z"/><path fill="rgb(154,115,0)" d="M410.0 195.0L443.3 195.0L446.7 233.3L431.7 248.3L416.7 235.0Z"/><path fill="rgb(148,204,0)" d="M393.3 220.0L416.7 233.3L431.7 248.3L445.0 245.0L446.7 293.3L433.3 306.7L406.7 290.0L386.7 266.7L396.7 246.7Z"/><path fill="rgb(129,255,0)" d="M440.0 195.0L496.7 195.0L498.3 280.0L483.3 294.0L463.3 290.7L446.7 293.3L443.3 246.7Z"/><path fill="rgb(133,102,0)" d="M440.0 213.3L463.3 206.7L490.0 216.7L496.7 233.3L476.7 246.7L450.0 240.0L436.7 226.7Z"/><path fill="rgb(145,230,0)" d="M443.3 243.3L495.0 241.7L496.7 280.0L483.3 293.3L463.3 290.0L446.7 280.0Z"/><path fill="rgb(133,102,0)" d="M470.0 257.3L496.7 254.0L496.7 280.0L483.3 290.0L467.3 280.0Z"/><path fill="rgb(169,178,0)" d="M470.0 213.3L484.0 211.7L485.3 224.0L472.0 225.3Z"/><path fill="rgb(166,204,0)" d="M446.7 243.3L460.7 241.7L464.0 260.7L450.7 264.0L444.0 254.0Z"/><path fill="rgb(174,255,0)" d="M325.0 288.3L360.0 285.0L380.0 306.7L387.3 331.7L373.3 348.3L346.7 345.0L329.3 327.3L321.7 306.7Z"/><path fill="rgb(189,255,0)" d="M343.3 300.0L363.3 298.3L373.3 320.0L363.3 336.7L348.3 331.7Z"/><path fill="rgb(143,230,0)" d="M310.0 291.7L326.7 290.0L330.0 330.0L320.0 341.7L311.7 326.7Z"/><path fill="rgb(162,255,0)" d="M363.3 263.3L390.0 267.3L406.7 290.0L431.7 306.7L443.3 308.3L443.3 324.0L423.3 327.3L403.3 321.7L383.3 308.3L365.0 288.3Z"/><path fill="rgb(197,255,0)" d="M434.0 298.7L450.0 293.3L463.3 296.0L466.0 306.0L450.0 308.7L436.0 307.3Z"/><path fill="rgb(197,255,0)" d="M387.3 280.0L396.7 278.7L398.7 290.0L388.7 292.0Z"/><path fill="rgb(109,102,0)" d="M311.7 343.3L323.3 353.3L336.7 361.7L356.7 365.0L376.7 363.3L396.7 356.7L413.3 346.7L425.0 342.7L420.7 354.0L403.3 367.3L383.3 377.3L363.3 380.7L343.3 379.0L326.7 374.0L313.3 364.0L310.0 350.7Z"/><path fill="rgb(96,76,0)" d="M316.7 350.7L330.0 360.7L350.0 367.3L370.0 367.3L363.3 372.3L343.3 372.3L326.7 367.3L316.7 357.3Z"/><path fill="rgb(128,230,0)" d="M310.0 377.3L443.3 380.7L443.3 390.7L310.0 390.7Z"/><path fill="rgb(147,230,0)" d="M396.7 355.0L413.3 341.7L441.7 326.7L443.3 380.0L396.7 379.3Z"/><path fill="rgb(151,178,0)" d="M443.3 310.0L491.7 310.0L496.7 326.7L494.0 353.3L500.0 366.7L530.0 370.7L550.7 377.3L573.3 380.7L577.3 407.3L564.0 417.3L443.3 417.3Z"/><path fill="rgb(178,255,0)" d="M444.0 310.7L486.7 310.7L492.7 330.0L489.3 353.3L495.0 380.0L480.0 383.3L463.3 366.7L450.0 373.3L444.0 353.3Z"/><path fill="rgb(197,255,0)" d="M448.3 315.0L463.3 313.3L475.0 324.0L477.3 336.0L471.7 344.0L484.0 365.0L488.3 375.0L482.7 371.7L470.0 354.0L461.7 349.3L452.7 360.0L449.3 345.0Z"/><path fill="rgb(133,102,0)" d="M491.7 313.3L510.0 313.3L523.3 333.3L516.7 353.3L496.7 353.3L493.3 330.0Z"/><path fill="rgb(155,204,0)" d="M506.7 306.7L524.0 306.7L540.7 326.7L542.0 344.0L526.7 344.0L513.3 326.7Z"/><path fill="rgb(197,255,0)" d="M511.7 311.7L520.0 310.0L535.0 326.7L536.7 340.0L528.3 336.7L516.7 320.0Z"/><path fill="rgb(130,128,0)" d="M468.3 393.3L496.7 396.7L494.0 414.0L466.0 414.0Z"/><path fill="rgb(130,128,0)" d="M530.0 380.7L574.0 384.0L574.0 410.7L536.7 414.0Z"/><path fill="rgb(163,230,0)" d="M445.0 353.3L463.3 356.7L477.3 380.0L464.0 394.0L447.3 387.3Z"/><path fill="rgb(155,128,0)" d="M599.3 323.3L610.7 326.7L612.3 340.7L603.3 344.0L598.0 333.3Z"/><path fill="rgb(159,230,0)" d="M546.7 366.7L573.3 371.7L575.0 388.3L553.3 385.0Z"/><path fill="rgb(154,255,0)" d="M420.0 393.3L445.0 393.3L450.7 413.3L485.0 420.0L485.0 437.3L463.3 440.7L457.3 454.0L460.7 477.3L430.0 477.3L426.7 446.7L417.3 413.3Z"/><path fill="rgb(197,255,0)" d="M443.3 423.3L463.3 421.7L483.3 425.0L481.7 432.3L460.0 434.0L445.0 432.3Z"/><path fill="rgb(103,128,0)" d="M463.3 441.7L485.0 438.3L485.0 477.3L461.7 477.3L458.3 456.7Z"/><path fill="rgb(138,255,0)" d="M241.7 393.3L376.7 393.3L376.7 410.0L343.3 414.0L316.7 407.3L290.0 414.0L263.3 410.7L241.7 414.0Z"/><path fill="rgb(111,255,0)" d="M146.7 393.3L183.3 393.3L186.7 420.0L180.0 440.0L163.3 443.3L150.0 426.7Z"/><path fill="rgb(147,230,0)" d="M183.3 393.3L241.7 393.3L241.7 477.3L227.3 477.3L217.3 447.3L214.0 420.7L197.3 414.0L185.0 413.3Z"/><path fill="rgb(73,128,0)" d="M179.3 425.0L191.7 416.7L202.3 425.0L213.3 446.7L216.7 477.3L183.3 477.3L176.7 446.7Z"/><path fill="rgb(66,89,0)" d="M183.3 427.3L191.7 420.7L200.0 427.3L210.0 447.3L213.3 477.3L186.7 477.3L180.0 447.3Z"/><path fill="rgb(60,76,0)" d="M188.7 450.7L196.7 447.3L205.0 457.3L208.3 477.3L190.3 477.3Z"/><path fill="rgb(99,204,0)" d="M150.0 433.3L176.7 443.3L180.0 477.3L153.3 477.3L146.7 453.3Z"/><path fill="rgb(149,255,0)" d="M489.3 419.3L575.0 419.3L579.3 446.7L577.3 473.3L574.0 500.0L564.0 530.7L489.3 530.7L488.0 500.0L493.3 466.7L490.0 440.0Z"/><path fill="rgb(115,230,0)" d="M489.3 419.3L518.3 419.3L521.7 466.7L511.7 500.0L503.3 530.7L489.3 530.7Z"/><path fill="rgb(99,153,0)" d="M490.7 466.7L508.3 463.3L510.7 495.0L492.0 497.3Z"/><path fill="rgb(105,51,0)" d="M576.7 419.3L645.0 419.3L645.0 532.7L563.3 532.7L574.0 500.0L577.3 473.3L579.3 446.7Z"/><path fill="rgb(110,76,0)" d="M576.7 419.3L645.0 419.3L645.0 450.0L603.3 456.7L580.7 466.7Z"/><path fill="rgb(99,64,0)" d="M596.7 483.3L645.0 476.7L645.0 532.7L590.0 532.7L596.7 510.0Z"/><path fill="rgb(90,51,0)" d="M610.0 500.0L626.7 498.3L630.0 506.7L616.7 513.3L608.3 508.3Z"/><path fill="rgb(130,128,0)" d="M490.0 423.3L513.3 423.3L516.7 443.3L500.0 453.3L490.0 446.7Z"/><path fill="rgb(133,102,0)" d="M546.7 496.7L560.0 500.0L563.3 520.0L553.3 530.0L546.7 513.3Z"/><path fill="rgb(170,230,0)" d="M556.7 426.7L570.7 426.7L575.7 466.7L570.7 500.0L560.0 493.3L563.3 460.0Z"/><path fill="rgb(167,230,0)" d="M496.7 466.7L516.7 463.3L523.3 483.3L506.7 496.7L495.0 486.7Z"/><path fill="rgb(197,255,0)" d="M525.0 443.3L531.7 435.0L545.0 431.7L551.7 441.7L550.7 460.0L555.0 471.7L550.7 483.3L541.7 488.3L535.0 478.3L540.7 463.3L530.0 455.0Z"/><path fill="rgb(197,255,0)" d="M505.0 511.7L515.0 504.0L528.3 506.0L541.7 515.0L543.3 524.0L530.0 526.0L515.0 521.7L506.7 518.3Z"/><path fill="rgb(197,128,0)" d="M541.7 423.3L555.0 423.3L556.0 435.0L542.7 435.0Z"/><path fill="rgb(152,255,0)" d="M423.3 390.0L445.0 390.0L447.3 420.0L464.0 426.7L460.7 443.3L444.0 460.0L437.3 486.7L424.0 510.0L404.0 520.7L396.7 513.3L413.3 493.3L423.3 466.7L426.7 433.3Z"/><path fill="rgb(170,230,0)" d="M430.0 403.3L440.0 403.3L443.3 433.3L436.7 466.7L426.7 496.7L420.7 500.0L428.3 466.7L431.7 433.3Z"/><path fill="rgb(197,255,0)" d="M443.3 423.3L463.3 421.7L483.3 425.0L481.7 432.3L460.0 434.0L445.0 432.3Z"/><path fill="rgb(100,128,0)" d="M450.0 433.3L486.0 433.3L486.0 474.0L463.3 477.3L446.7 466.7Z"/><path fill="rgb(65,230,0)" d="M430.0 476.7L450.0 473.3L466.7 476.7L483.3 466.7L486.0 530.7L463.3 532.3L450.0 527.3L440.0 510.7L443.3 494.0L430.0 487.3Z"/><path fill="rgb(95,153,0)" d="M450.0 496.7L470.0 490.0L483.3 500.0L483.3 520.0L463.3 523.3L451.7 513.3Z"/><path fill="rgb(28,255,0)" d="M286.7 543.3L303.3 526.7L316.7 516.7L343.3 516.7L363.3 513.3L376.0 516.7L377.3 553.3L360.0 556.7L363.3 586.7L370.0 606.7L360.0 613.3L330.0 600.0L303.3 580.0L290.0 560.0Z"/><path fill="rgb(50,230,0)" d="M303.3 526.7L316.7 516.7L343.3 516.7L363.3 513.3L376.0 516.7L376.0 533.3L350.0 533.3L330.0 530.0L316.7 533.3Z"/><path fill="rgb(74,153,0)" d="M301.7 516.7L330.0 509.3L363.3 507.3L376.7 509.3L376.7 517.3L343.3 517.3L316.7 517.3L304.0 526.0Z"/><path fill="rgb(15,102,0)" d="M303.3 536.7L310.0 543.3L316.7 560.0L330.0 580.0L326.7 583.3L313.3 566.7L305.0 550.0Z"/><path fill="rgb(89,230,0)" d="M145.0 408.3L186.7 420.0L183.3 440.0L190.0 466.7L206.7 500.0L226.7 540.0L240.0 573.3L263.3 593.3L303.3 600.0L316.7 613.3L330.0 633.3L356.7 654.0L306.7 657.3L276.7 613.3L230.0 600.7L225.0 573.3L201.7 540.0L188.3 500.0L171.7 493.3L158.3 460.0L145.0 433.3Z"/><path fill="rgb(145,230,0)" d="M148.3 390.0L241.7 390.0L241.7 440.7L230.0 444.0L213.3 434.0L196.7 424.0L176.7 420.7L156.7 413.3Z"/><path fill="rgb(151,255,0)" d="M226.7 440.0L240.7 450.0L247.3 476.7L264.0 500.0L280.7 526.7L290.7 553.3L284.0 564.0L270.0 547.3L256.7 527.3L243.3 500.7L233.3 474.0L223.3 457.3Z"/><path fill="rgb(73,128,0)" d="M183.3 426.0L198.3 422.7L210.7 439.3L218.0 466.7L230.7 491.7L244.7 511.7L261.3 531.7L274.7 556.0L278.7 576.7L263.3 584.7L243.3 569.3L226.0 545.3L209.3 518.3L199.3 501.7L189.3 478.3L179.3 455.0L176.0 435.0Z"/><path fill="rgb(66,89,0)" d="M186.7 430.0L196.7 426.7L206.7 440.0L213.3 466.7L226.7 493.3L240.0 513.3L256.7 533.3L270.0 556.7L273.3 573.3L263.3 580.0L246.7 566.7L230.0 543.3L213.3 516.7L203.3 500.0L193.3 476.7L183.3 453.3L180.0 436.7Z"/><path fill="rgb(58,76,0)" d="M190.0 450.0L201.7 450.0L205.0 466.7L210.0 483.3L201.7 486.7L195.0 473.3Z"/><path fill="rgb(58,76,0)" d="M213.3 510.0L226.7 506.7L243.3 523.3L260.0 543.3L270.0 563.3L263.3 573.3L250.0 563.3L233.3 543.3L220.0 526.7Z"/><path fill="rgb(197,255,0)" d="M250.0 495.0L258.3 496.7L261.7 510.0L255.0 511.7Z"/><path fill="rgb(197,255,0)" d="M261.7 516.7L273.3 520.0L280.0 540.0L276.7 550.0L268.3 540.0L263.3 526.7Z"/><path fill="rgb(69,255,0)" d="M230.0 586.7L263.3 593.3L303.3 600.0L316.7 613.3L330.0 633.3L356.7 654.0L306.7 657.3L276.7 613.3L256.7 606.7L230.0 600.0Z"/><path fill="rgb(56,178,0)" d="M273.3 586.7L303.3 590.0L316.7 603.3L303.3 606.7L280.0 600.0Z"/><path fill="rgb(41,230,0)" d="M276.7 600.0L303.3 606.7L316.7 620.0L330.0 640.0L316.7 646.7L303.3 633.3L286.7 620.0Z"/><path fill="rgb(7,230,0)" d="M330.0 596.7L343.3 593.3L360.0 600.0L370.0 613.3L363.3 633.3L360.0 654.0L330.0 647.3L320.0 630.0L310.0 616.7L316.7 606.7Z"/><path fill="rgb(2,153,0)" d="M320.0 616.7L330.0 620.0L343.3 636.7L360.0 646.7L356.7 654.0L330.0 647.3L321.7 633.3Z"/><path fill="rgb(25,255,0)" d="M378.3 556.7L390.0 573.3L403.3 586.7L423.3 600.0L443.3 616.7L463.3 630.0L486.0 633.3L486.0 687.3L450.0 687.3L430.0 684.0L360.0 655.7L356.7 646.7L366.7 633.3L370.0 606.7L363.3 586.7L360.0 556.7Z"/><path fill="rgb(83,204,0)" d="M378.3 533.3L486.0 533.3L486.0 633.3L463.3 630.0L443.3 616.7L423.3 600.0L403.3 586.7L390.0 573.3L378.3 556.7Z"/><path fill="rgb(90,204,0)" d="M390.0 560.0L413.3 553.3L430.0 573.3L450.0 600.0L476.7 613.3L483.3 630.0L463.3 626.7L443.3 613.3L423.3 596.7L403.3 580.0Z"/><path fill="rgb(74,153,0)" d="M383.3 543.3L406.7 540.0L430.0 550.0L443.3 560.0L463.3 573.3L480.0 596.7L476.7 600.0L456.7 586.7L436.7 570.0L416.7 556.7L390.0 550.0Z"/><path fill="rgb(77,128,0)" d="M463.3 536.7L483.3 536.7L483.3 556.7L470.0 553.3Z"/><path fill="rgb(19,128,0)" d="M363.3 606.7L376.7 613.3L396.7 613.3L416.7 620.0L433.3 630.0L446.7 646.7L450.0 666.7L440.0 676.7L430.0 684.0L360.0 655.7L356.7 646.7L366.7 633.3L370.0 613.3Z"/><path fill="rgb(32,89,0)" d="M396.7 626.7L416.7 626.7L433.3 640.0L446.7 663.3L436.7 673.3L423.3 666.7L410.0 646.7Z"/><path fill="rgb(9,128,0)" d="M360.0 633.3L376.7 630.0L396.7 640.0L406.7 660.0L403.3 670.0L383.3 663.3L360.0 655.7Z"/><path fill="rgb(50,230,0)" d="M450.0 640.0L466.7 633.3L483.3 640.0L483.3 660.0L463.3 666.7L453.3 656.7Z"/><path fill="rgb(82,204,0)" d="M488.3 533.3L620.7 533.3L620.7 546.7L596.7 560.0L576.7 586.7L570.0 613.3L573.3 640.0L576.7 666.7L556.7 666.7L530.0 663.3L503.3 656.7L488.3 640.0Z"/><path fill="rgb(88,204,0)" d="M488.3 533.3L563.3 533.3L570.0 553.3L550.0 573.3L530.0 566.7L516.7 586.7L496.7 600.0L488.3 600.0Z"/><path fill="rgb(90,204,0)" d="M496.7 613.3L523.3 606.7L550.0 620.0L560.0 646.7L536.7 656.7L506.7 646.7Z"/><path fill="rgb(149,255,0)" d="M543.3 533.3L573.3 533.3L570.0 560.0L560.0 570.0L546.7 556.7Z"/><path fill="rgb(148,153,0)" d="M555.0 630.0L563.3 633.3L561.7 653.3L555.0 650.0Z"/><path fill="rgb(66,153,0)" d="M576.7 560.0L620.7 546.7L620.7 586.7L596.7 600.0L576.7 586.7Z"/><path fill="rgb(74,153,0)" d="M493.3 543.3L506.7 546.7L510.0 573.3L496.7 586.7L491.7 566.7Z"/><path fill="rgb(74,153,0)" d="M530.0 580.0L543.3 573.3L546.7 606.7L535.0 613.3Z"/><path fill="rgb(25,255,0)" d="M488.3 633.3L503.3 653.3L530.0 660.0L556.7 663.3L580.0 666.7L596.7 633.3L620.7 616.7L620.7 670.7L540.0 672.3L506.7 677.3L506.7 687.3L488.3 687.3Z"/><path fill="rgb(59,153,0)" d="M576.7 600.0L596.7 586.7L620.7 586.7L620.7 616.7L596.7 633.3L580.0 666.7L570.0 633.3Z"/><path fill="rgb(50,153,0)" d="M583.3 626.7L603.3 613.3L620.7 616.7L620.7 653.3L596.7 663.3L586.7 653.3Z"/><path fill="rgb(43,102,0)" d="M540.0 671.7L620.7 670.0L663.3 660.0L703.3 666.7L703.3 733.3L630.0 766.7L563.3 700.0Z"/><path fill="rgb(38,89,0)" d="M590.0 693.3L650.0 686.7L690.0 713.3L676.7 753.3L623.3 746.7Z"/><path fill="rgb(29,102,0)" d="M610.0 748.3L650.0 738.3L676.7 755.0L650.0 775.0L616.7 765.0Z"/><path fill="rgb(31,76,0)" d="M660.0 706.7L676.7 705.0L680.0 716.7L663.3 720.0Z"/><path fill="rgb(59,102,0)" d="M623.3 663.3L663.3 656.7L696.7 663.3L676.7 676.7L636.7 676.7Z"/><path fill="rgb(32,76,0)" d="M619.3 690.0L640.0 686.7L651.7 700.0L650.0 720.0L630.0 721.7L621.7 706.7Z"/><path fill="rgb(30,89,0)" d="M614.0 711.7L650.0 713.3L663.3 733.3L630.0 737.3L613.3 730.0Z"/><path fill="rgb(19,128,0)" d="M587.3 728.3L603.3 726.0L627.7 734.3L630.0 755.0L610.0 760.0L591.7 746.7Z"/></g></g>
<g filter="url(#rag)">
<path fill="#F4CCCC" d="M840.0 216.7L853.3 213.3L873.3 220.0L893.3 223.3L920.0 223.3L906.7 233.3L886.7 246.7L866.7 260.0L860.0 263.3L853.3 256.7L843.3 240.0L840.0 226.7Z" />
<path fill="#F49898" d="M893.3 226.7L920.0 223.3L906.7 232.7L896.7 235.0Z" />
<path fill="#F4CCCC" d="M913.3 263.3L933.3 253.3L953.3 243.3L963.3 240.0L953.3 251.7L973.3 260.0L993.3 263.3L1023.3 260.0L1033.3 270.0L1050.0 278.3L1033.3 280.0L1013.3 276.7L993.3 280.0L973.3 276.7L956.7 271.7L940.0 268.3L926.7 266.7Z" />
<path fill="#F4CCCC" d="M930.0 225.0L946.7 218.3L948.3 221.7L933.3 229.3Z" />
<path fill="#F4CCCC" d="M1240.0 336.7L1250.0 326.7L1263.3 316.7L1273.3 313.3L1276.7 326.7L1270.0 346.7L1260.0 360.0L1250.0 356.7L1243.3 346.7Z" />
<path fill="#F4CCCC" d="M1228.3 343.3L1236.7 341.7L1238.3 353.3L1230.0 355.0Z" />
<path fill="#F4CCCC" d="M1243.3 383.3L1256.7 380.0L1270.0 383.3L1266.7 393.3L1253.3 396.7L1245.0 391.7Z" />
<path fill="#F4CCCC" d="M1356.7 246.7L1373.3 240.0L1386.7 246.7L1406.7 241.7L1410.0 266.7L1393.3 273.3L1373.3 280.0L1360.0 293.3L1346.7 306.7L1340.0 320.0L1336.7 303.3L1350.0 280.0L1353.3 263.3Z" />
<path fill="#F49898" d="M1356.7 256.7L1366.7 251.7L1370.0 266.7L1360.0 276.7Z" />
<path fill="#F4CCCC" d="M1290.0 313.3L1303.3 310.0L1306.7 326.7L1300.0 346.7L1293.3 366.7L1290.0 353.3Z" />
<path fill="#F4CCCC" d="M1316.7 313.3L1336.7 300.0L1340.0 320.0L1333.3 336.7L1320.0 340.0Z" />
<path fill="#F4CCCC" d="M1373.3 336.7L1393.3 330.0L1413.3 320.0L1423.3 313.3L1416.7 323.3L1393.3 336.7L1380.0 340.0Z" />
<path fill="#FF9630" d="M1160.0 356.7L1223.3 356.7L1233.3 366.7L1220.0 380.0L1160.0 380.0Z" />
<path fill="#FF9630" d="M1273.3 320.0L1286.7 320.0L1286.7 413.3L1273.3 413.3Z" />
<path fill="#FFAA50" d="M1286.7 376.7L1343.3 375.0L1350.0 393.3L1340.0 410.0L1286.7 413.3Z" />
<path fill="#FFC070" d="M1260.0 420.0L1286.7 413.3L1326.7 406.7L1326.7 420.0L1273.3 433.3Z" />
<path fill="#FF9630" d="M1140.0 448.3L1173.3 421.7L1206.7 411.7L1215.0 415.0L1181.7 428.3L1151.7 455.0Z" />
<path fill="#FF9630" d="M1133.3 428.3L1160.0 411.7L1175.0 411.7L1148.3 435.0Z" />
<path fill="#FF9630" d="M1183.3 443.3L1213.3 426.7L1230.0 423.3L1206.7 440.0L1190.0 450.0Z" />
<path fill="#FFD890" d="M1093.3 530.0L1100.0 513.3L1110.0 496.7L1126.7 483.3L1146.7 470.0L1166.7 461.7L1180.0 463.3L1176.7 476.7L1163.3 490.0L1150.0 503.3L1136.7 516.7L1123.3 526.7L1110.0 533.3Z" />
<path fill="#FFC070" d="M1106.7 523.3L1120.0 506.7L1136.7 490.0L1153.3 476.7L1166.7 468.3L1163.3 480.0L1150.0 495.0L1136.7 510.0L1123.3 521.7L1111.7 528.3Z" />
<path fill="#FFAA50" d="M1115.0 516.7L1130.0 498.3L1146.7 484.0L1160.0 476.0L1156.0 484.0L1143.3 497.3L1130.7 512.7L1118.3 520.7Z" />
<path fill="#FF9630" d="M1125.0 508.3L1136.7 495.0L1148.3 486.0L1145.0 492.7L1135.0 504.0L1127.3 511.7Z" />
<path fill="#FFD890" d="M1040.0 585.0L1050.0 575.0L1063.3 565.0L1076.7 555.0L1090.0 545.0L1103.3 536.7L1116.7 530.0L1131.7 523.3L1128.3 535.0L1115.0 545.0L1101.7 555.0L1088.3 565.0L1075.0 575.0L1061.7 584.0L1048.3 589.3Z" />
<path fill="#FFC070" d="M1060.0 576.7L1073.3 566.7L1086.7 556.7L1100.0 546.7L1113.3 539.3L1110.0 546.7L1096.7 556.7L1083.3 566.7L1070.0 576.7L1061.7 581.7Z" />
<path fill="#FFAA50" d="M1066.7 572.7L1080.0 562.7L1093.3 552.7L1101.7 547.7L1091.7 558.3L1078.3 569.0L1070.0 575.0Z" />
<path fill="#FFD890" d="M1136.7 505.0L1150.0 491.7L1170.0 478.3L1190.0 468.3L1183.3 480.0L1166.7 493.3L1150.0 506.7L1140.0 511.7Z" />
<path fill="#9C8808" d="M1083.3 490.0L1100.0 480.0L1113.3 480.0L1106.7 500.0L1093.3 520.0L1083.3 513.3Z" />
</g>
</g>
<path fill="#D8D0E8" d="M1072.0 878.0L1084.0 877.0L1090.0 874.0L1086.0 880.0L1074.0 881.0Z"/><path fill="#D8D0E8" d="M1092.0 874.0L1104.0 870.0L1112.0 866.0L1108.0 872.0L1096.0 877.0Z"/><path fill="#D8D0E8" d="M1114.0 864.0L1124.0 858.0L1130.0 852.0L1128.0 858.0L1118.0 866.0Z"/><path fill="#D8D0E8" d="M1056.0 880.0L1064.0 879.0L1064.0 882.0L1056.0 883.0Z"/><path fill="#F4CCCC" d="M231.0 618.0L244.0 616.0L250.0 619.0L240.0 622.0Z"/><path fill="#A8F000" d="M262.0 637.0L266.0 636.0L268.0 642.0L264.0 643.0Z"/><path fill="#A8F000" d="M272.0 647.0L277.0 645.0L280.0 652.0L275.0 653.0Z"/><path fill="#7CE008" d="M273.0 655.0L279.0 657.0L283.0 664.0L278.0 663.0Z"/><path fill="#E0D800" d="M250.0 646.0L254.0 645.0L255.0 651.0L251.0 651.0Z"/><path fill="#E8B8B0" d="M930.0 226.0L938.0 222.0L946.0 218.5L948.5 220.5L941.0 226.0L934.0 230.5Z"/><path fill="#F4CCCC" d="M1038.0 265.0L1046.0 265.0L1046.0 276.0L1058.0 276.0L1059.0 283.0L1048.0 282.0L1042.0 275.0Z"/><path fill="#F4CCCC" d="M1008.0 284.6L1015.0 284.0L1016.0 290.0L1010.0 293.0L1007.0 289.0Z"/>
<g fill="none" stroke="#000" stroke-width="3.9" stroke-linejoin="round" stroke-linecap="round">
<path d="M180.3 195.8L308.2 195.8L330.3 195.8L598.5 195.8L750.9 195.8L797.4 195.8"/>
<path d="M180.7 196.3L182.7 202.0"/>
<path d="M173.3 218.9L164.0 218.7L153.3 217.1L144.0 214.0L136.7 212.3"/>
<path d="M136.7 212.3L136.3 216.0L138.0 224.0L142.0 231.3L146.0 238.7L148.0 246.7L149.6 252.7L154.9 253.1L151.3 256.7L152.0 260.0L154.9 260.7L152.0 263.3L152.0 270.7L153.1 273.3"/>
<path d="M153.1 273.3L160.0 271.7L169.3 273.3L176.7 277.3L178.7 285.3L182.7 290.9L190.7 293.1L200.0 289.6L208.0 288.0L216.0 290.9L225.3 288.7L233.3 287.3L242.7 285.3L253.3 282.0L263.3 279.3L273.3 278.9L308.2 279.9"/>
<path d="M308.2 195.8L308.2 279.9"/>
<path d="M308.2 279.9L312.0 280.3L317.3 285.3L321.1 290.7L318.7 298.9L317.0 296.0L312.0 306.0L306.0 314.0L303.0 326.0L308.0 330.0L308.4 391.9"/>
<path d="M330.3 195.8L329.6 221.3L333.3 229.3L336.7 234.9L338.7 238.7L346.7 244.3L352.7 252.0L358.7 258.9L368.3 261.3L366.7 270.7L364.7 281.3L366.7 286.7L373.3 290.9L381.3 294.9L384.0 302.0L389.0 309.0L396.0 314.0L400.0 324.0L408.0 322.0L420.0 320.0L432.0 318.0L438.0 314.0L442.0 315.6"/>
<path d="M154.0 274.0L154.0 290.0L152.0 310.0L150.0 330.0L145.0 350.0L140.0 368.0L144.0 378.0L146.0 392.0"/>
<path d="M146.0 392.0L150.0 402.0L150.0 414.0L146.0 426.0L143.0 438.0L150.0 448.0L155.0 458.0L157.4 468.0L161.4 478.7L173.4 489.4L180.0 498.7L186.7 501.4L190.7 518.7L200.0 529.4L202.7 540.1L200.0 545.4L208.0 558.8L218.7 572.1L226.7 582.8L228.1 596.1"/>
<path d="M228.0 595.3L229.3 600.7L253.4 604.7L264.0 612.7L277.4 616.7L280.0 622.0L290.7 627.4L300.1 636.7L302.7 647.4L306.7 656.2"/>
<path d="M148.1 391.9L242.0 391.9L308.4 391.9L375.2 391.9L442.0 391.9"/>
<path d="M242.0 391.9L242.0 476.0L362.0 588.1"/>
<path d="M375.2 391.9L375.2 532.0"/>
<path d="M375.2 532.0L376.1 556.1L372.1 558.0L358.8 556.1L357.5 566.8L361.5 577.4L361.5 590.8"/>
<path d="M361.4 590.0L365.4 600.7L369.4 610.0L365.4 619.3L361.4 630.0L359.6 643.4L361.4 647.4L357.4 652.7"/>
<path d="M360.0 652.0L306.4 657.3"/>
<path d="M360.0 652.0L358.0 658.4L441.6 690.9L486.7 690.9"/>
<path d="M486.7 690.9L505.5 690.9L505.5 678.3L543.1 678.3"/>
<path d="M541.5 674.8L546.9 682.0L557.5 692.7L568.2 702.1L576.2 712.7L584.2 723.4L588.2 735.4L597.5 743.4L608.2 750.1L617.6 756.0L622.9 750.1L626.9 739.4L632.2 734.1L642.9 732.7L653.6 734.1L664.2 742.1L673.6 752.8L680.3 766.1L688.3 782.1L689.3 784.7L698.7 799.4L702.7 814.1L709.4 827.4L721.4 832.8L732.0 838.1L745.4 840.8L752.0 839.4"/>
<path d="M442.0 319.1L442.0 391.9"/>
<path d="M442.0 307.9L598.5 307.9"/>
<path d="M442.0 307.9L442.0 319.1"/>
<path d="M442.0 391.9L442.0 420.0"/>
<path d="M442.0 420.0L486.7 420.0L598.5 420.0L643.2 420.0"/>
<path d="M598.5 195.8L598.5 281.5L598.5 307.9L598.5 363.9L598.5 420.0"/>
<path d="M486.7 420.0L486.7 532.0L486.7 690.9"/>
<path d="M375.2 532.0L486.7 532.0L621.9 532.0L643.2 532.0L809.2 532.0"/>
<path d="M643.2 420.0L643.2 448.0L643.2 532.0"/>
<path d="M621.9 532.0L621.9 546.0L620.8 672.1"/>
<path d="M620.8 672.1L541.0 672.1L543.1 678.3"/>
<path d="M598.5 281.5L765.9 281.5"/>
<path d="M750.9 195.8L753.4 210.0L757.4 223.4L760.0 239.4L761.4 252.7L765.4 266.1L766.7 279.4L760.0 290.1L765.4 298.1L768.0 308.7L768.3 349.9"/>
<path d="M768.3 349.9L765.4 354.1L766.7 367.4L764.8 372.8L769.4 380.8"/>
<path d="M598.5 363.9L722.5 363.9L722.7 362.6L733.4 368.8L746.7 367.4L757.4 371.4L765.4 376.8L769.4 380.8"/>
<path d="M769.4 380.8L772.0 391.5L774.7 402.1L768.2 380.0L773.5 390.7L778.8 406.7L781.5 422.7L785.5 430.7L792.2 441.4L800.2 450.7L797.5 457.4L804.2 465.4L808.2 472.0L809.2 473.2L809.2 532.0L809.2 546.0"/>
<path d="M768.3 349.9L885.2 349.9"/>
<path d="M643.2 448.0L793.8 448.0"/>
<path d="M785.5 430.2L877.6 429.9L880.8 434.7L878.9 441.4"/>
<path d="M885.4 349.3L888.1 359.4L890.8 367.4L897.4 375.4L904.1 380.8L908.1 388.8L904.1 399.5L890.9 406.7L888.2 417.4L880.2 429.4L878.9 441.4L884.2 454.7L893.6 468.0L898.9 478.7L908.2 484.1L906.9 494.7L913.6 505.4L922.9 513.4L928.3 525.4L933.1 535.3"/>
<path d="M933.1 535.3L938.9 524.1L946.9 528.1L952.3 516.1L954.9 508.1"/>
<path d="M954.9 508.1L958.9 497.4L964.3 486.7L966.9 473.4L969.6 460.0L967.7 466.2L967.7 398.7"/>
<path d="M933.1 535.3L925.6 542.8L920.3 553.4L909.6 556.1L917.6 558.8L913.6 569.4L909.6 580.1L904.2 590.8L897.6 601.5L890.9 612.1L921.5 560.0L913.4 568.0L910.8 576.0L906.8 585.3L898.8 597.4L892.1 608.0L886.8 621.4L885.4 634.7L888.1 648.0L890.8 658.7L886.8 666.7L881.4 677.4L877.4 690.7L876.1 698.7"/>
<path d="M809.2 546.0L909.1 546.0L902.9 558.2L917.6 558.2"/>
<path d="M621.9 546.0L689.0 546.0L689.0 600.4"/>
<path d="M689.5 598.8L696.1 602.8L704.1 604.1L712.1 609.5L722.8 612.1L733.5 616.1L744.2 614.8L753.4 624.0L753.4 624.0L761.4 620.0L769.4 625.4L780.0 622.7L788.0 620.0L796.1 616.0L806.7 620.0L813.4 624.0"/>
<path d="M809.2 546.0L813.5 577.2L813.4 624.0"/>
<path d="M813.4 624.0L821.4 626.7L822.2 644.1"/>
<path d="M822.2 644.1L886.4 644.1"/>
<path d="M752.0 839.4L749.4 824.8L745.4 811.4L740.0 803.4L746.7 792.7L750.7 782.1L760.1 771.4L772.1 763.4L785.4 758.1L796.1 750.1L804.1 739.4L814.7 734.0L825.4 732.7"/>
<path d="M905.8 588.1L952.7 588.1L1010.6 588.1L1039.4 588.1L1066.5 588.1"/>
<path d="M1009.5 588.0L1020.2 645.4L1025.5 664.1L1021.5 677.4L1022.8 698.7L1024.2 705.4"/>
<path d="M1024.2 705.4L1086.9 713.4L1089.5 717.4L1092.2 705.4L1102.9 708.1"/>
<path d="M1061.5 588.0L1068.2 600.0L1078.9 613.4L1089.5 629.4L1100.2 642.7L1105.5 653.4L1110.9 661.4L1116.2 664.1"/>
<path d="M1066.5 588.1L1086.8 581.4L1110.8 582.8L1117.4 592.1L1142.8 593.4L1177.5 618.0L1180.3 617.4"/>
<path d="M1102.9 708.1L1105.5 693.4L1109.6 680.1L1114.9 666.7L1121.6 658.7L1137.6 648.0L1153.6 634.7L1164.2 622.7L1180.3 617.4L1188.3 608.0L1201.6 597.4L1214.9 593.4L1222.9 585.3L1233.6 580.0L1237.6 570.7L1236.3 560.0"/>
<path d="M1102.9 706.0L1108.2 723.4L1113.6 739.4L1118.9 755.4L1125.6 768.7L1128.2 787.4L1133.6 806.1L1136.3 822.1L1134.9 840.8L1129.6 856.8L1121.6 863.4L1112.2 862.1"/>
<path d="M1112.2 862.1L1108.2 852.8L1100.2 840.8L1094.9 827.4L1089.6 816.8L1084.2 806.1L1076.2 795.4L1073.6 784.7L1074.9 771.4L1073.6 758.1L1065.5 744.7L1054.9 731.4L1044.2 724.7L1033.5 730.0L1025.5 734.0L1014.9 734.0"/>
<path d="M1097.4 542.2L1092.1 550.8L1076.1 561.4L1065.4 566.8L1054.7 576.1L1044.1 580.1L1040.1 587.6"/>
<path d="M797.0 195.6L797.0 186.0L806.0 186.0L809.6 202.0L820.0 205.0L828.0 208.6L838.0 205.4L848.0 207.0L855.0 211.0L860.0 214.6L866.0 213.4L874.0 218.0L882.0 222.0L888.0 219.0L894.0 217.0L898.0 220.0L910.0 220.6L924.4 223.6"/>
<path d="M924.4 223.6L912.0 231.0L900.0 235.0L890.0 241.0L880.0 248.0L870.0 255.0L862.0 260.0"/>
<path d="M862.0 260.0L861.0 269.0L860.0 277.0L854.0 281.0L848.0 287.0L847.0 291.0L850.0 295.0L849.0 305.0L850.0 315.0L856.0 319.0L864.0 324.0L870.0 329.0L876.0 333.0L882.0 338.0L884.0 345.0L885.0 352.0L885.2 349.9"/>
<path d="M862.0 260.6L872.0 259.0L884.0 256.0L893.0 254.0L896.0 255.0L893.0 262.0L900.0 261.0L908.0 266.0"/>
<path d="M908.0 266.0L912.0 271.0L920.0 274.0L930.0 277.0L940.0 280.0L950.0 282.0L956.0 285.0L960.0 291.0L962.0 297.0L965.0 302.6"/>
<path d="M908.0 266.0L916.0 259.0L924.0 256.0L932.0 253.0L940.0 247.0L948.0 242.0L954.0 239.0L963.0 238.6L964.0 241.0L956.0 245.0L950.0 250.0L947.0 257.0L954.0 254.0L961.0 255.0L968.0 259.0L972.0 264.0L980.0 266.0L986.0 268.0L992.0 264.0L1000.0 261.0L1010.0 259.0L1020.0 258.0L1026.0 258.0L1026.4 265.0L1034.0 267.0L1040.0 268.0L1042.0 275.0L1049.0 279.0"/>
<path d="M1049.0 279.0L1040.0 279.0L1032.0 281.0L1026.0 278.0L1018.0 277.0L1010.0 279.0L1002.0 282.0L994.0 283.0L988.0 284.0L982.0 283.0L978.0 289.0L973.0 297.0L969.0 303.0L965.0 302.6"/>
<path d="M965.0 303.0L963.0 309.0L958.0 317.0L956.0 321.0L961.0 316.0L967.0 309.0L973.0 303.0L978.0 299.0L976.0 307.0L972.0 315.0L969.0 323.0L967.0 331.0L965.0 341.0L963.0 352.0"/>
<path d="M960.0 360.0L961.0 372.0L963.0 384.0L966.0 394.0L969.0 400.0L976.0 401.0L984.0 398.0L990.0 392.0L995.0 384.0L998.0 374.0L998.0 364.0L995.0 354.0L992.0 344.0L991.0 334.0"/>
<path d="M991.0 335.0L994.0 327.0L996.0 319.0L1000.0 313.0L1006.0 309.0L1013.0 311.0L1012.0 303.0L1018.0 299.0L1025.0 295.0L1024.0 287.0L1029.0 284.0"/>
<path d="M1029.0 284.0L1038.0 288.0L1048.0 291.0L1058.0 295.0L1062.0 303.0L1064.0 307.0L1064.0 306.0L1062.0 316.0L1060.0 326.0L1056.0 332.0L1049.0 336.0L1048.0 342.0L1052.0 345.0L1058.0 340.0L1064.0 335.0L1070.0 333.0L1076.0 336.0L1079.0 346.0L1081.0 358.0L1081.0 368.0L1076.0 374.0L1074.0 377.0L1070.0 380.0L1067.0 388.0L1064.0 394.0L1060.0 399.0"/>
<path d="M898.2 377.9L960.0 377.4"/>
<path d="M984.0 398.4L1030.0 398.0L1060.0 399.0"/>
<path d="M1028.3 400.3L1028.3 473.2"/>
<path d="M1060.0 399.0L1066.0 403.0L1072.0 406.0L1080.0 407.0L1090.0 405.0L1100.0 402.0L1110.0 398.0L1120.0 394.0L1124.4 392.0L1132.0 388.0L1140.0 385.0L1143.0 383.0L1150.0 378.0L1158.0 372.0L1160.0 367.0L1157.0 360.0L1159.0 354.0L1168.0 353.6L1180.0 352.4L1190.0 355.0L1200.0 354.0L1210.0 350.0L1218.0 347.0L1222.0 338.0L1219.0 332.0L1228.0 326.0L1236.0 318.0L1244.0 311.0L1252.0 307.6"/>
<path d="M1254.5 307.9L1284.6 307.9L1326.0 307.9"/>
<path d="M1124.4 393.3L1124.4 455.8"/>
<path d="M1141.4 384.9L1141.4 391.9L1239.9 391.9"/>
<path d="M1124.4 455.8L1230.1 455.8"/>
<path d="M954.9 508.1L962.9 505.4L973.6 506.7L984.3 502.7L995.0 497.4L977.4 505.4L988.0 501.4L993.4 497.4L1004.1 494.7L1012.1 486.7L1020.1 482.7L1020.0 484.7L1026.0 481.3L1029.3 473.3L1036.0 472.0L1041.3 477.3L1048.0 482.0L1054.7 486.0L1061.3 484.0L1068.0 482.0L1073.3 484.0L1076.7 489.3L1080.0 492.7"/>
<path d="M1080.0 492.7L1085.3 488.0L1087.3 482.7L1089.3 477.3L1094.7 473.3L1098.7 469.3L1104.0 465.3L1110.7 461.3L1116.0 456.0L1118.7 448.0L1120.7 440.0L1122.0 430.0L1124.0 429.3"/>
<path d="M1080.0 492.7L1078.7 498.7L1080.7 505.3L1085.3 512.0L1090.0 518.0L1092.7 520.7"/>
<path d="M1092.7 520.7L1085.3 524.0L1078.7 528.0L1073.3 533.3L1069.3 538.9L1060.1 540.1L1054.7 541.4"/>
<path d="M1186.0 472.7L1180.0 467.3L1173.3 461.3L1172.7 465.3L1170.7 470.0L1168.0 473.3L1164.0 477.3L1161.3 481.3L1157.3 482.7L1154.7 486.7L1152.0 492.0L1148.0 490.7L1145.3 486.7L1142.7 488.0L1140.7 494.7L1137.3 500.0L1133.3 506.7L1129.3 512.0L1130.7 516.0L1126.7 519.3L1120.0 520.0L1113.3 522.0L1106.7 522.7L1102.7 525.3L1096.7 525.3L1092.7 520.7"/>
<path d="M1147.6 455.8L1147.3 470.7L1152.0 466.7L1158.7 462.7L1164.0 459.3L1168.0 458.7L1173.3 460.0L1180.0 458.7L1185.3 459.3L1186.7 465.3L1186.0 472.7"/>
<path d="M1186.0 472.7L1192.0 470.7L1197.3 473.3L1204.0 477.3L1205.3 481.3L1198.7 485.3L1196.0 490.7L1198.7 494.7L1206.7 497.3L1213.3 502.7L1218.7 506.7"/>
<path d="M1230.1 455.8L1230.1 491.4L1246.6 491.4"/>
<path d="M925.3 546.8L957.4 545.4L957.4 541.4L1054.7 541.4L1097.4 542.2L1166.8 544.9L1226.8 542.8"/>
<path d="M1325.0 307.0L1327.0 301.0L1330.0 299.0L1335.0 298.0"/>
<path d="M1335.5 298.0L1340.0 299.0L1344.0 295.0L1345.0 291.0L1349.0 288.0L1352.0 284.0L1353.5 279.0L1353.0 274.0L1356.0 269.0L1358.5 265.0L1359.0 260.0L1363.0 255.0L1369.0 248.0L1374.0 242.0L1377.5 238.5L1381.0 239.0L1381.5 244.0L1384.0 245.5L1390.0 243.5L1396.0 241.5L1400.0 241.0L1405.0 244.5L1410.0 249.5L1410.5 255.0L1410.0 265.0L1409.5 275.0L1410.0 285.0L1412.0 289.0L1417.0 291.0L1417.5 297.0L1419.0 302.0L1423.0 303.0L1425.0 306.0L1424.0 311.0L1426.0 300.0L1427.0 306.0L1424.0 310.0L1427.0 313.0L1425.0 317.0L1420.0 318.0L1415.0 321.0L1410.0 322.0L1404.0 324.0L1400.0 323.0L1395.0 326.0L1390.0 325.0L1387.0 320.0L1383.0 324.0L1380.0 331.0L1374.0 335.0L1369.0 338.0L1364.0 342.0L1358.0 341.0L1354.0 345.0L1353.0 350.0L1349.0 354.0L1345.0 358.0L1343.0 362.0L1341.0 367.0L1343.0 372.0L1345.0 374.0L1341.0 379.0L1337.0 381.0L1339.0 384.0L1344.0 387.0"/>
<path d="M1284.5 307.5L1284.0 315.0L1285.0 322.0L1283.0 333.0L1284.0 340.0L1283.0 347.0L1287.0 349.0L1287.0 370.5"/>
<path d="M1325.0 307.5L1324.0 314.0L1325.0 320.0L1322.0 324.0L1316.0 326.0L1313.5 333.0L1310.0 341.0L1306.5 348.0L1305.0 356.0L1303.5 364.0L1302.0 370.5"/>
<path d="M1335.8 298.0L1336.5 330.0L1337.5 350.0L1340.0 354.0L1343.0 360.0"/>
<path d="M1287.0 370.5L1302.0 370.5L1330.0 372.5L1333.0 369.0L1337.0 366.5L1341.0 367.0"/>
<path d="M1287.0 370.5L1286.5 374.0L1284.0 382.0L1282.0 391.0L1281.0 400.0L1280.0 409.0L1279.0 416.0L1276.0 418.0"/>
<path d="M1282.5 390.0L1329.0 390.5L1331.0 397.0L1334.0 401.0"/>
<path d="M1320.5 390.5L1320.5 409.0"/>
<path d="M1276.0 418.0L1285.0 415.0L1294.0 411.5L1300.0 412.0L1308.0 410.0L1316.0 409.0L1320.5 409.0L1326.0 407.0L1330.0 403.0L1334.0 401.0L1338.0 403.0L1342.0 400.0L1346.0 399.0"/>
<path d="M1343.0 365.0L1345.0 370.0L1346.0 374.0L1341.0 378.0L1337.0 382.0L1338.0 385.0L1343.0 386.0L1346.0 390.0L1348.0 395.0L1349.0 398.5L1355.0 398.0L1360.0 397.0L1362.0 394.0L1360.0 391.0L1356.0 389.5L1354.0 390.0"/>
<path d="M1241.0 391.5L1245.0 397.0L1247.0 403.0L1251.0 407.0L1250.0 413.0L1245.0 419.5L1246.0 425.0L1243.0 430.0L1248.0 435.0L1254.5 442.5L1249.0 447.0L1243.0 451.0L1244.0 450.7L1236.0 452.7L1233.3 454.9"/>
<path d="M1251.0 407.0L1274.0 419.5"/>
<path d="M1272.0 435.0L1273.0 441.0L1271.2 453.0L1270.7 436.0L1271.3 446.7L1268.0 454.7L1264.0 461.3L1258.7 468.0L1254.7 473.3L1252.0 477.3L1246.7 471.3L1240.0 465.3L1236.0 458.7L1233.3 454.9"/>
<path d="M1233.3 454.9L1234.7 464.0L1238.7 473.3L1244.0 480.0L1246.7 490.7"/>
<path d="M1246.7 490.7L1246.7 497.3L1242.7 506.7L1236.0 516.0L1230.7 525.3L1228.0 530.7"/>
<path d="M822.2 644.1L822.2 672.4L828.1 685.4L830.7 698.7L832.0 690.0L833.0 696.0L830.0 705.0L829.5 715.0L829.0 724.0L826.0 731.0L824.0 734.5"/>
<path d="M824.0 734.5L832.0 733.5L842.0 734.0L850.0 738.0L856.0 740.0L862.0 740.0L866.0 737.0L864.0 734.0L869.0 732.0L872.0 735.0L876.0 734.5L878.0 739.0L883.0 742.0L886.0 746.0L889.0 750.0L894.0 752.5L898.0 749.0L903.0 747.5L907.0 753.0L911.0 750.0L912.0 742.0L916.0 743.0L919.0 747.0L924.0 750.0L927.0 754.0L926.0 757.0L931.0 755.0L935.0 752.0L934.5 749.0L929.0 746.0L924.0 742.0L921.0 739.0L925.0 735.0L929.0 731.0L931.5 727.0L930.0 723.0L926.0 722.0L925.0 718.0L930.0 716.5L937.0 714.5L943.0 715.5L948.0 717.0"/>
<path d="M922.0 723.0L920.0 721.0L914.0 724.5L908.0 725.5L903.0 724.0L903.5 720.0L908.0 716.0L913.0 718.0L918.0 722.0L922.0 723.0"/>
<path d="M876.0 690.0L875.0 693.0L876.0 699.5L919.0 700.0L916.5 708.0L918.5 713.0L921.0 719.0L922.0 723.0"/>
<path d="M952.7 588.1L949.5 698.7L948.0 690.0L948.0 717.0"/>
<path d="M948.0 717.0L954.0 718.0L954.5 710.0L957.0 705.0L959.5 710.0L961.0 717.0L957.0 720.0L965.0 720.0L972.0 717.0L972.0 713.0"/>
<path d="M972.0 713.0L970.0 710.0L967.0 705.0L965.5 700.0L1024.2 700.2"/>
<path d="M972.0 713.0L980.0 712.5L990.0 714.0L998.0 713.5L1006.0 718.0L1012.0 722.0L1015.0 730.0L1016.0 736.0L1014.9 734.0L1025.5 734.0"/>
<path d="M1215.0 470.0L1217.0 480.0L1220.0 490.0L1226.0 496.0L1230.0 503.0L1228.0 512.0L1225.0 522.0L1226.0 528.0L1228.5 529.0"/>
<path d="M1248.0 480.0L1248.0 490.0L1245.0 496.0L1242.0 503.0L1238.0 509.0L1234.0 517.0L1230.0 526.0L1228.5 529.0"/>
<path d="M1226.5 533.0L1229.0 540.0L1231.0 548.0L1229.0 540.0L1231.0 548.0L1234.0 556.0L1237.0 564.0L1236.0 568.0L1232.0 572.0L1228.0 575.0L1225.0 578.0L1220.0 580.0L1218.0 584.0L1220.0 588.0L1218.0 592.0L1215.0 596.0L1210.0 596.0L1204.0 598.0L1198.0 601.0L1192.0 604.0L1187.0 609.0L1184.0 614.0L1182.0 619.2"/>
<path d="M1264.0 434.0L1276.0 424.0L1286.0 421.0L1295.0 417.0L1306.0 414.0L1310.0 416.0L1300.0 419.0L1306.0 418.0L1318.0 417.0L1319.0 419.0L1310.0 423.0L1300.0 427.5L1290.0 431.0L1280.0 433.0L1272.0 434.0L1264.0 434.0"/>
<path d="M1274.0 419.5L1270.0 425.0L1264.0 431.0L1264.0 434.0"/>
</g>
<path fill="none" stroke="#000" stroke-width="8.5" stroke-linejoin="round" stroke-linecap="round" d="M180.7 196.3L182.7 202.0L187.3 205.3L188.0 214.7L192.0 222.7L190.0 233.3L189.3 242.7L180.7 250.0L174.0 246.7L172.7 239.3L178.7 234.7L182.0 225.3L178.7 216.0L173.3 218.7"/>
<path fill="none" stroke="#000" stroke-width="7" stroke-linejoin="round" stroke-linecap="round" d="M172.7 208.7L177.3 204.7L182.7 206.7L178.7 212.0L173.3 210.0L172.7 208.7"/>
<path fill="none" stroke="#000" stroke-width="8" stroke-linejoin="round" stroke-linecap="round" d="M184.0 213.3L185.3 224.0L182.7 233.3L177.3 240.0L178.7 246.7"/>
<path fill="none" stroke="#000" stroke-width="6" stroke-linejoin="round" stroke-linecap="round" d="M186.7 501.4L189.9 499.5L193.4 505.4L191.5 510.7L196.0 517.4L190.7 518.7"/>
<path fill="none" stroke="#000" stroke-width="6" stroke-linejoin="round" stroke-linecap="round" d="M1073.6 784.7L1078.9 782.1L1081.6 787.4L1077.6 790.1"/>
<path fill="none" stroke="#000" stroke-width="5.5" stroke-linejoin="round" stroke-linecap="round" d="M1341.0 410.0L1345.0 409.0L1349.5 409.5L1346.0 411.5L1341.0 410.0"/>
<path fill="none" stroke="#000" stroke-width="5.5" stroke-linejoin="round" stroke-linecap="round" d="M1356.0 411.0L1360.0 410.0L1361.5 412.5L1357.0 413.0L1356.0 411.0"/>
<path fill="none" stroke="#000" stroke-width="5.5" stroke-linejoin="round" stroke-linecap="round" d="M1190.0 470.0L1196.0 474.0L1205.0 477.5L1200.0 485.0L1196.0 490.0L1198.0 494.0L1202.0 491.5L1208.0 496.0L1215.0 501.0L1219.0 504.5"/>
<path fill="none" stroke="#000" stroke-width="6" stroke-linejoin="round" stroke-linecap="round" d="M1204.0 503.0L1210.0 508.0L1216.0 512.0L1220.0 514.0"/>
<path fill="none" stroke="#000" stroke-width="6" stroke-linejoin="round" stroke-linecap="round" d="M1207.0 517.0L1213.0 522.0L1218.0 526.0"/>
<path fill="none" stroke="#000" stroke-width="6" stroke-linejoin="round" stroke-linecap="round" d="M1203.0 524.5L1209.0 528.0L1215.0 532.0L1218.0 535.0L1224.0 534.0L1226.5 533.0"/>
<path fill="none" stroke="#000" stroke-width="5" stroke-linejoin="round" stroke-linecap="round" d="M1219.0 504.5L1220.0 514.0L1219.0 522.0L1218.0 530.0L1220.0 534.0"/>
<path fill="none" stroke="#000" stroke-width="5.5" stroke-linejoin="round" stroke-linecap="round" d="M1209.0 550.0L1210.0 562.0L1217.0 558.0L1223.0 552.0"/>
<path fill="none" stroke="#000" stroke-width="5.5" stroke-linejoin="round" stroke-linecap="round" d="M1215.0 563.0L1222.0 560.0L1229.0 563.0L1225.0 570.0L1222.0 568.0"/>
<path fill="none" stroke="#000" stroke-width="6" stroke-linejoin="round" stroke-linecap="round" d="M1203.0 574.0L1210.0 577.0L1215.0 572.0L1214.0 580.0L1220.0 580.0"/>
<path fill="none" stroke="#000" stroke-width="6" stroke-linejoin="round" stroke-linecap="round" d="M1201.0 584.5L1208.0 588.0L1214.0 586.0"/>
<path fill="none" stroke="#000" stroke-width="6" stroke-linejoin="round" stroke-linecap="round" d="M980.0 284.0L986.0 283.0L989.0 284.6L982.0 285.4"/>
<path fill="none" stroke="#000" stroke-width="6" stroke-linejoin="round" stroke-linecap="round" d="M1013.0 303.0L1014.0 313.0L1012.0 315.0"/>
<path fill="none" stroke="#000" stroke-width="6.5" stroke-linejoin="round" stroke-linecap="round" d="M1349.0 398.5L1355.0 398.0L1360.0 397.0L1362.0 394.0L1360.0 391.0L1356.0 389.5L1354.0 390.0"/>
<g font-family="'Liberation Sans', Arial, sans-serif" fill="#000"><text x="784.6" y="57" text-anchor="middle" font-weight="bold" font-size="33.6">Honeydew moth: Earliest date of 1st gen. egg hatch 2026</text><text x="783.6" y="107.4" text-anchor="middle" font-size="27.07">Maps and modeling 01/06/2026 by Oregon State University IPPC USPEST.ORG and</text><text x="784.3" y="140" text-anchor="middle" font-size="27.05">USDA-APHIS-PPQ; climate data from OSU PRISM Climate Group</text><text x="1472" y="317" font-weight="bold" font-size="25.95">Earliest date</text><text x="1472" y="344.9" font-weight="bold" font-size="25.95">of 1st gen. egg</text><text x="1472" y="372.8" font-weight="bold" font-size="25.95">hatch</text></g>
<g><rect x="1472.0" y="386.00" width="25.6" height="25.82" fill="#D8D0E8"/><rect x="1472.0" y="411.52" width="25.6" height="25.82" fill="#AAF5E0"/><rect x="1472.0" y="437.04" width="25.6" height="25.82" fill="#8CE5D2"/><rect x="1472.0" y="462.56" width="25.6" height="25.82" fill="#6ED4C4"/><rect x="1472.0" y="488.08" width="25.6" height="25.82" fill="#50C2B4"/><rect x="1472.0" y="513.60" width="25.6" height="25.82" fill="#B8FFC5"/><rect x="1472.0" y="539.12" width="25.6" height="25.82" fill="#8CD498"/><rect x="1472.0" y="564.64" width="25.6" height="25.82" fill="#64A86C"/><rect x="1472.0" y="590.16" width="25.6" height="25.82" fill="#3C7C40"/><rect x="1472.0" y="615.68" width="25.6" height="25.82" fill="#155215"/><rect x="1472.0" y="641.20" width="25.6" height="25.82" fill="#CCFF00"/><rect x="1472.0" y="666.72" width="25.6" height="25.82" fill="#A8F000"/><rect x="1472.0" y="692.24" width="25.6" height="25.82" fill="#7CE008"/><rect x="1472.0" y="717.76" width="25.6" height="25.82" fill="#50D010"/><rect x="1472.0" y="743.28" width="25.6" height="25.82" fill="#FFFF00"/><rect x="1599.1" y="386.00" width="25.6" height="25.82" fill="#E0D800"/><rect x="1599.1" y="411.52" width="25.6" height="25.82" fill="#BCB000"/><rect x="1599.1" y="437.04" width="25.6" height="25.82" fill="#9C8808"/><rect x="1599.1" y="462.56" width="25.6" height="25.82" fill="#FFD890"/><rect x="1599.1" y="488.08" width="25.6" height="25.82" fill="#FFC070"/><rect x="1599.1" y="513.60" width="25.6" height="25.82" fill="#FFAA50"/><rect x="1599.1" y="539.12" width="25.6" height="25.82" fill="#FF9630"/><rect x="1599.1" y="564.64" width="25.6" height="25.82" fill="#FF8210"/><rect x="1599.1" y="590.16" width="25.6" height="25.82" fill="#F4CCCC"/><rect x="1599.1" y="615.68" width="25.6" height="25.82" fill="#F49898"/><rect x="1599.1" y="641.20" width="25.6" height="25.82" fill="#F46464"/><rect x="1599.1" y="666.72" width="25.6" height="25.82" fill="#F83030"/><rect x="1599.1" y="692.24" width="25.6" height="25.82" fill="#E8B8B0"/><rect x="1599.1" y="717.76" width="25.6" height="25.82" fill="#CC9088"/><rect x="1599.1" y="743.28" width="25.6" height="25.82" fill="#B46858"/><rect x="1725.0" y="386.00" width="25.6" height="25.82" fill="#9C4432"/><rect x="1725.0" y="411.52" width="25.6" height="25.82" fill="#FFB0DC"/><rect x="1725.0" y="437.04" width="25.6" height="25.82" fill="#FF84E4"/><rect x="1725.0" y="462.56" width="25.6" height="25.82" fill="#FF58EC"/><rect x="1725.0" y="488.08" width="25.6" height="25.82" fill="#FF2CF4"/><rect x="1725.0" y="513.60" width="25.6" height="25.82" fill="#FF00FF"/><rect x="1725.0" y="539.12" width="25.6" height="25.82" fill="#E0C0E8"/><rect x="1725.0" y="564.64" width="25.6" height="25.82" fill="#CC98D8"/><rect x="1725.0" y="590.16" width="25.6" height="25.82" fill="#B870C8"/><rect x="1725.0" y="615.68" width="25.6" height="25.82" fill="#A04CBC"/><rect x="1725.0" y="641.20" width="25.6" height="25.82" fill="#B8EEFF"/><rect x="1725.0" y="666.72" width="25.6" height="25.82" fill="#88D8F0"/><rect x="1725.0" y="692.24" width="25.6" height="25.82" fill="#58C0E8"/><rect x="1725.0" y="717.76" width="25.6" height="25.82" fill="#28A8DC"/><rect x="1725.0" y="743.28" width="25.6" height="25.82" fill="#A0C8E8"/><rect x="1850.0" y="386.00" width="25.6" height="25.82" fill="#7890E8"/></g><g transform="scale(1.118,1)" font-family="'DejaVu Sans', 'Liberation Sans', sans-serif" font-size="19.5" fill="#000" stroke="#000" stroke-width="0.3"><text x="1348.48" y="406.7">Jan-27</text><text x="1348.48" y="432.2">Feb-03</text><text x="1348.48" y="457.7">Feb-10</text><text x="1348.48" y="483.3">Feb-17</text><text x="1348.48" y="508.8">Feb-24</text><text x="1348.48" y="534.3">Mar-03</text><text x="1348.48" y="559.8">Mar-10</text><text x="1348.48" y="585.3">Mar-17</text><text x="1348.48" y="610.9">Mar-24</text><text x="1348.48" y="636.4">Mar-31</text><text x="1348.48" y="661.9">Apr-07</text><text x="1348.48" y="687.4">Apr-14</text><text x="1348.48" y="712.9">Apr-21</text><text x="1348.48" y="738.5">Apr-28</text><text x="1348.48" y="764.0">May-05</text><text x="1462.16" y="406.7">May-12</text><text x="1462.16" y="432.2">May-19</text><text x="1462.16" y="457.7">May-26</text><text x="1462.16" y="483.3">Jun-02</text><text x="1462.16" y="508.8">Jun-09</text><text x="1462.16" y="534.3">Jun-16</text><text x="1462.16" y="559.8">Jun-23</text><text x="1462.16" y="585.3">Jun-30</text><text x="1462.16" y="610.9">Jul-07</text><text x="1462.16" y="636.4">Jul-14</text><text x="1462.16" y="661.9">Jul-21</text><text x="1462.16" y="687.4">Jul-28</text><text x="1462.16" y="712.9">Aug-04</text><text x="1462.16" y="738.5">Aug-11</text><text x="1462.16" y="764.0">Aug-18</text><text x="1574.78" y="406.7">Aug-25</text><text x="1574.78" y="432.2">Sep-01</text><text x="1574.78" y="457.7">Sep-08</text><text x="1574.78" y="483.3">Sep-15</text><text x="1574.78" y="508.8">Sep-22</text><text x="1574.78" y="534.3">Sep-29</text><text x="1574.78" y="559.8">Oct-06</text><text x="1574.78" y="585.3">Oct-13</text><text x="1574.78" y="610.9">Oct-20</text><text x="1574.78" y="636.4">Oct-28</text><text x="1574.78" y="661.9">Nov-03</text><text x="1574.78" y="687.4">Nov-12</text><text x="1574.78" y="712.9">Nov-18</text><text x="1574.78" y="738.5">Nov-25</text><text x="1574.78" y="764.0">Dec-04</text><text x="1686.58" y="406.7">Dec-17</text></g>
</svg></body></html>
